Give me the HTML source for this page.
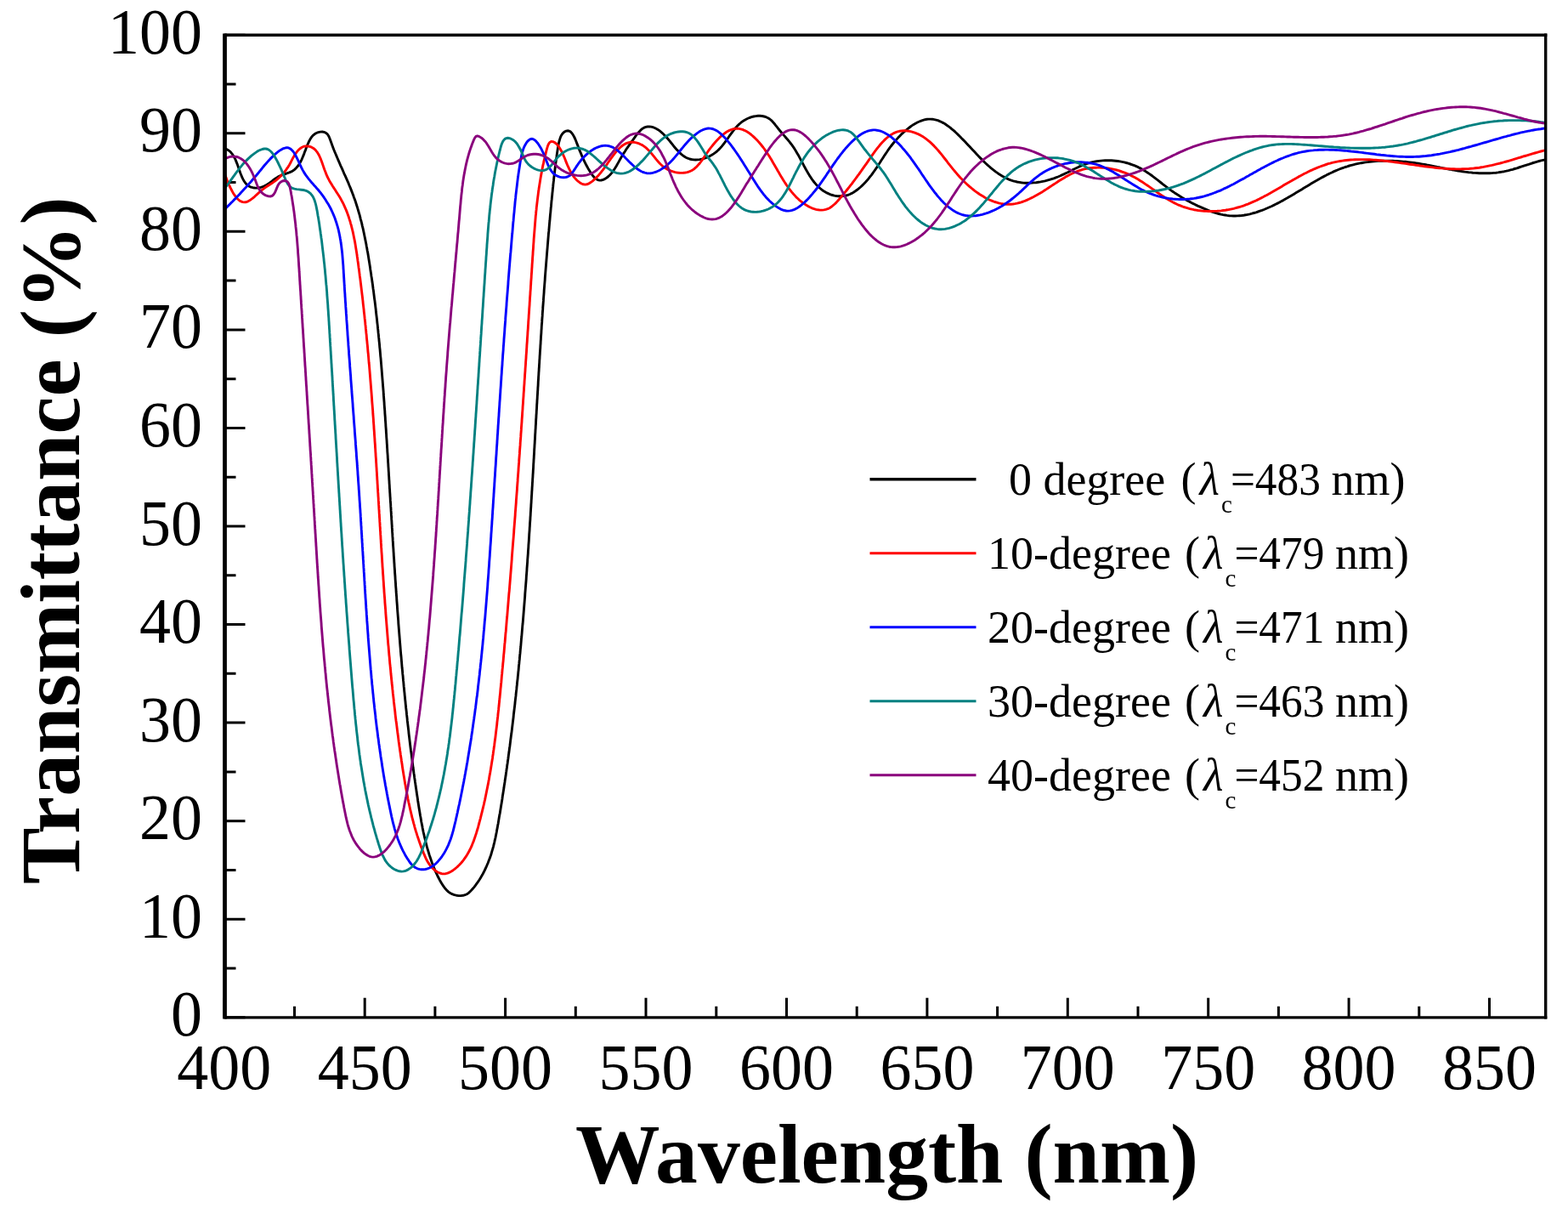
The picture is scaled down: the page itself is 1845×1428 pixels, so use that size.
<!DOCTYPE html>
<html><head><meta charset="utf-8"><title>Transmittance vs Wavelength</title>
<style>
html,body{margin:0;padding:0;background:#fff;}
svg{display:block;}
text{font-family:"Liberation Serif","Times New Roman",serif;fill:#000;}
</style></head><body>
<svg width="1845" height="1428" viewBox="0 0 1845 1428">
<rect x="0" y="0" width="1845" height="1428" fill="#fff"/>
<path d="M263.8,1196.8V1173.8M346.5,1196.8V1183.8M429.2,1196.8V1173.8M511.9,1196.8V1183.8M594.6,1196.8V1173.8M677.3,1196.8V1183.8M760.0,1196.8V1173.8M842.8,1196.8V1183.8M925.5,1196.8V1173.8M1008.2,1196.8V1183.8M1090.9,1196.8V1173.8M1173.6,1196.8V1183.8M1256.3,1196.8V1173.8M1339.0,1196.8V1183.8M1421.7,1196.8V1173.8M1504.4,1196.8V1183.8M1587.1,1196.8V1173.8M1669.8,1196.8V1183.8M1752.5,1196.8V1173.8M264.5,1196.8H288.5M264.5,1139.0H277.5M264.5,1081.2H288.5M264.5,1023.5H277.5M264.5,965.7H288.5M264.5,907.9H277.5M264.5,850.1H288.5M264.5,792.3H277.5M264.5,734.6H288.5M264.5,676.8H277.5M264.5,619.0H288.5M264.5,561.2H277.5M264.5,503.4H288.5M264.5,445.7H277.5M264.5,387.9H288.5M264.5,330.1H277.5M264.5,272.3H288.5M264.5,214.5H277.5M264.5,156.8H288.5M264.5,99.0H277.5M264.5,41.2H288.5" stroke="#000" stroke-width="3" fill="none"/>
<defs><clipPath id="pc"><rect x="264.5" y="41.2" width="1554.2" height="1155.6"/></clipPath></defs>
<g clip-path="url(#pc)" fill="none" stroke-width="2.9" stroke-linejoin="round" stroke-linecap="round">
<path stroke="#000" d="M264.4,174.6 266.6,175.5 268.6,176.7 270.5,178.1 272.1,179.8 273.6,181.7 275.0,183.8 276.2,186.0 277.3,188.4 278.3,190.9 279.3,193.4 280.2,196.0 281.1,198.6 282.0,201.2 282.9,203.8 283.9,206.2 284.9,208.6 286.0,210.9 287.2,213.0 288.5,214.9 289.9,216.6 291.6,218.1 293.4,219.2 295.3,220.1 297.5,220.7 299.8,221.0 302.1,221.1 304.5,220.8 306.9,220.3 309.3,219.6 311.6,218.6 313.7,217.4 315.9,216.1 317.9,214.6 320.0,213.1 322.0,211.5 324.1,210.0 326.3,208.6 328.5,207.3 330.8,206.2 333.2,205.3 335.7,204.5 338.2,203.7 340.5,202.9 342.8,201.9 344.8,200.7 346.7,199.4 348.3,197.8 349.9,196.1 351.3,194.2 352.6,192.2 353.8,190.0 354.9,187.8 355.9,185.5 356.9,183.1 357.9,180.6 358.8,178.1 359.8,175.6 360.7,173.1 361.7,170.6 362.8,168.2 363.9,165.7 365.2,163.4 366.6,161.3 368.2,159.4 370.1,157.8 372.2,156.5 374.5,155.6 376.9,155.1 379.2,155.0 381.4,155.4 383.4,156.3 385.1,157.7 386.4,159.5 387.5,161.7 388.4,164.1 389.3,166.6 390.2,169.0 391.1,171.4 392.0,173.9 392.9,176.3 393.9,178.7 394.9,181.0 395.9,183.4 396.9,185.8 397.9,188.1 398.9,190.4 399.9,192.8 400.9,195.1 402.0,197.4 403.0,199.7 404.0,202.0 405.0,204.3 406.1,206.6 407.1,208.9 408.1,211.2 409.1,213.4 410.1,215.7 411.0,218.0 412.0,220.3 412.9,222.6 413.8,224.9 414.7,227.3 415.6,229.6 416.4,231.9 417.3,234.3 418.1,236.6 418.9,239.0 419.6,241.3 420.4,243.7 421.1,246.1 421.8,248.5 422.5,250.9 423.2,253.2 423.8,255.6 424.4,258.1 425.1,260.5 425.7,262.9 426.2,265.3 426.8,267.7 427.4,270.2 427.9,272.6 428.4,275.0 428.9,277.5 429.4,279.9 429.9,282.4 430.4,284.8 430.9,287.3 431.3,289.8 431.8,292.2 432.2,294.7 432.7,297.1 433.1,299.6 433.5,302.1 433.9,304.6 434.3,307.0 434.7,309.5 435.1,312.0 435.5,314.5 435.8,316.9 436.2,319.4 436.6,321.9 436.9,324.4 437.3,326.8 437.7,329.3 438.0,331.8 438.4,334.3 438.7,336.7 439.0,339.2 439.4,341.7 439.7,344.2 440.0,346.7 440.3,349.2 440.6,351.6 441.0,354.1 441.3,356.6 441.6,359.1 441.9,361.6 442.2,364.0 442.4,366.5 442.7,369.0 443.0,371.5 443.3,374.0 443.6,376.5 443.8,379.0 444.1,381.4 444.4,383.9 444.6,386.4 444.9,388.9 445.1,391.4 445.4,393.9 445.6,396.4 445.9,398.9 446.1,401.3 446.4,403.8 446.6,406.3 446.8,408.8 447.1,411.3 447.3,413.8 447.5,416.3 447.7,418.8 448.0,421.3 448.2,423.8 448.4,426.3 448.6,428.7 448.8,431.2 449.0,433.7 449.2,436.2 449.4,438.7 449.6,441.2 449.8,443.7 450.0,446.2 450.2,448.7 450.4,451.2 450.6,453.7 450.8,456.2 451.0,458.7 451.2,461.2 451.3,463.7 451.5,466.1 451.7,468.6 451.9,471.1 452.1,473.6 452.2,476.1 452.4,478.6 452.6,481.1 452.8,483.6 452.9,486.1 453.1,488.6 453.3,491.1 453.4,493.6 453.6,496.1 453.8,498.6 453.9,501.1 454.1,503.6 454.3,506.1 454.4,508.6 454.6,511.1 454.7,513.6 454.9,516.1 455.1,518.6 455.2,521.0 455.4,523.5 455.5,526.0 455.7,528.5 455.8,531.0 456.0,533.5 456.2,536.0 456.3,538.5 456.5,541.0 456.6,543.5 456.8,546.0 456.9,548.5 457.1,551.0 457.2,553.5 457.4,556.0 457.5,558.5 457.7,561.0 457.8,563.5 458.0,566.0 458.1,568.5 458.3,571.0 458.4,573.5 458.6,576.0 458.7,578.5 458.9,581.0 459.0,583.5 459.2,585.9 459.3,588.4 459.5,590.9 459.7,593.4 459.8,595.9 460.0,598.4 460.1,600.9 460.3,603.4 460.4,605.9 460.6,608.4 460.7,610.9 460.9,613.4 461.0,615.9 461.2,618.4 461.3,620.9 461.5,623.4 461.6,625.9 461.8,628.4 461.9,630.9 462.1,633.4 462.2,635.9 462.4,638.4 462.5,640.9 462.7,643.4 462.9,645.8 463.0,648.3 463.2,650.8 463.3,653.3 463.5,655.8 463.7,658.3 463.8,660.8 464.0,663.3 464.1,665.8 464.3,668.3 464.5,670.8 464.6,673.3 464.8,675.8 465.0,678.3 465.1,680.8 465.3,683.3 465.5,685.8 465.6,688.3 465.8,690.8 466.0,693.2 466.1,695.7 466.3,698.2 466.5,700.7 466.7,703.2 466.8,705.7 467.0,708.2 467.2,710.7 467.4,713.2 467.5,715.7 467.7,718.2 467.9,720.7 468.1,723.2 468.3,725.7 468.5,728.2 468.7,730.6 468.8,733.1 469.0,735.6 469.2,738.1 469.4,740.6 469.6,743.1 469.8,745.6 470.0,748.1 470.2,750.6 470.4,753.1 470.6,755.6 470.8,758.1 471.0,760.6 471.2,763.0 471.4,765.5 471.6,768.0 471.8,770.5 472.1,773.0 472.3,775.5 472.5,778.0 472.7,780.5 472.9,783.0 473.1,785.5 473.4,787.9 473.6,790.4 473.8,792.9 474.1,795.4 474.3,797.9 474.5,800.4 474.8,802.9 475.0,805.4 475.2,807.9 475.5,810.3 475.7,812.8 476.0,815.3 476.2,817.8 476.5,820.3 476.7,822.8 477.0,825.3 477.2,827.8 477.5,830.3 477.7,832.7 478.0,835.2 478.3,837.7 478.5,840.2 478.8,842.7 479.1,845.2 479.3,847.7 479.6,850.1 479.9,852.6 480.2,855.1 480.5,857.6 480.8,860.1 481.0,862.6 481.3,865.1 481.6,867.5 481.9,870.0 482.2,872.5 482.5,875.0 482.8,877.5 483.1,880.0 483.4,882.4 483.8,884.9 484.1,887.4 484.4,889.9 484.7,892.4 485.0,894.8 485.4,897.3 485.7,899.8 486.0,902.3 486.4,904.8 486.7,907.3 487.0,909.7 487.4,912.2 487.7,914.7 488.1,917.2 488.4,919.7 488.8,922.1 489.1,924.6 489.5,927.1 489.9,929.6 490.2,932.1 490.6,934.5 491.0,937.0 491.4,939.5 491.7,942.0 492.1,944.4 492.5,946.9 492.9,949.4 493.3,951.9 493.7,954.3 494.1,956.8 494.5,959.3 495.0,961.8 495.4,964.2 495.8,966.7 496.3,969.2 496.8,971.6 497.2,974.1 497.7,976.5 498.2,979.0 498.8,981.4 499.3,983.8 499.9,986.2 500.5,988.7 501.1,991.1 501.7,993.5 502.3,995.9 503.0,998.3 503.7,1000.7 504.4,1003.0 505.1,1005.4 505.9,1007.8 506.7,1010.1 507.5,1012.5 508.3,1014.8 509.2,1017.1 510.1,1019.4 511.0,1021.7 512.0,1024.0 513.0,1026.3 514.1,1028.5 515.1,1030.8 516.3,1033.0 517.4,1035.2 518.7,1037.4 519.9,1039.5 521.3,1041.6 522.7,1043.7 524.2,1045.6 525.9,1047.4 527.7,1049.1 529.8,1050.5 532.0,1051.7 534.5,1052.6 537.0,1053.2 539.7,1053.6 542.3,1053.6 544.9,1053.3 547.2,1052.7 549.4,1051.7 551.4,1050.4 553.1,1048.8 554.8,1047.0 556.4,1045.2 558.0,1043.4 559.5,1041.4 560.9,1039.4 562.4,1037.4 563.8,1035.3 565.1,1033.2 566.4,1031.0 567.7,1028.8 568.9,1026.5 570.0,1024.3 571.1,1022.0 572.2,1019.7 573.2,1017.3 574.2,1015.0 575.1,1012.6 576.0,1010.2 576.9,1007.9 577.7,1005.5 578.4,1003.1 579.1,1000.7 579.8,998.3 580.5,995.8 581.1,993.4 581.7,991.0 582.2,988.6 582.8,986.1 583.3,983.7 583.8,981.2 584.3,978.8 584.7,976.3 585.2,973.9 585.6,971.4 586.1,969.0 586.5,966.5 586.9,964.1 587.3,961.6 587.7,959.1 588.2,956.7 588.6,954.2 589.0,951.7 589.4,949.3 589.8,946.8 590.2,944.4 590.6,941.9 591.0,939.4 591.3,937.0 591.7,934.5 592.1,932.0 592.5,929.6 592.9,927.1 593.2,924.6 593.6,922.2 594.0,919.7 594.3,917.2 594.7,914.8 595.1,912.3 595.4,909.8 595.8,907.3 596.1,904.9 596.5,902.4 596.8,899.9 597.2,897.5 597.5,895.0 597.9,892.5 598.2,890.0 598.5,887.6 598.9,885.1 599.2,882.6 599.5,880.1 599.9,877.7 600.2,875.2 600.5,872.7 600.8,870.2 601.1,867.8 601.4,865.3 601.8,862.8 602.1,860.3 602.4,857.9 602.7,855.4 603.0,852.9 603.3,850.4 603.6,847.9 603.9,845.5 604.2,843.0 604.4,840.5 604.7,838.0 605.0,835.5 605.3,833.1 605.6,830.6 605.9,828.1 606.1,825.6 606.4,823.1 606.7,820.6 607.0,818.2 607.2,815.7 607.5,813.2 607.8,810.7 608.0,808.2 608.3,805.7 608.5,803.2 608.8,800.8 609.1,798.3 609.3,795.8 609.6,793.3 609.8,790.8 610.1,788.3 610.3,785.8 610.5,783.4 610.8,780.9 611.0,778.4 611.3,775.9 611.5,773.4 611.7,770.9 612.0,768.4 612.2,765.9 612.4,763.4 612.7,761.0 612.9,758.5 613.1,756.0 613.3,753.5 613.5,751.0 613.8,748.5 614.0,746.0 614.2,743.5 614.4,741.0 614.6,738.5 614.8,736.0 615.1,733.5 615.3,731.1 615.5,728.6 615.7,726.1 615.9,723.6 616.1,721.1 616.3,718.6 616.5,716.1 616.7,713.6 616.9,711.1 617.1,708.6 617.3,706.1 617.5,703.6 617.7,701.1 617.8,698.6 618.0,696.1 618.2,693.6 618.4,691.1 618.6,688.6 618.8,686.2 619.0,683.7 619.2,681.2 619.3,678.7 619.5,676.2 619.7,673.7 619.9,671.2 620.0,668.7 620.2,666.2 620.4,663.7 620.6,661.2 620.7,658.7 620.9,656.2 621.1,653.7 621.3,651.2 621.4,648.7 621.6,646.2 621.8,643.7 621.9,641.2 622.1,638.7 622.3,636.2 622.4,633.7 622.6,631.2 622.7,628.7 622.9,626.2 623.1,623.7 623.2,621.2 623.4,618.7 623.5,616.2 623.7,613.7 623.9,611.2 624.0,608.7 624.2,606.2 624.3,603.7 624.5,601.2 624.6,598.7 624.8,596.2 624.9,593.7 625.1,591.2 625.2,588.7 625.4,586.2 625.5,583.7 625.7,581.2 625.8,578.7 626.0,576.2 626.1,573.7 626.3,571.2 626.4,568.7 626.6,566.2 626.7,563.7 626.9,561.2 627.0,558.7 627.2,556.2 627.3,553.7 627.5,551.2 627.6,548.7 627.7,546.2 627.9,543.7 628.0,541.2 628.2,538.7 628.3,536.2 628.5,533.7 628.6,531.2 628.7,528.7 628.9,526.2 629.0,523.7 629.2,521.2 629.3,518.7 629.5,516.2 629.6,513.7 629.7,511.2 629.9,508.7 630.0,506.2 630.2,503.7 630.3,501.2 630.5,498.7 630.6,496.2 630.7,493.7 630.9,491.2 631.0,488.7 631.2,486.2 631.3,483.7 631.5,481.2 631.6,478.7 631.7,476.2 631.9,473.7 632.0,471.2 632.2,468.7 632.3,466.2 632.5,463.7 632.6,461.2 632.8,458.7 632.9,456.2 633.1,453.7 633.2,451.2 633.3,448.7 633.5,446.2 633.6,443.7 633.8,441.2 633.9,438.7 634.1,436.2 634.2,433.7 634.4,431.3 634.5,428.8 634.7,426.3 634.8,423.8 635.0,421.3 635.1,418.8 635.3,416.3 635.4,413.8 635.6,411.3 635.8,408.8 635.9,406.3 636.1,403.8 636.2,401.3 636.4,398.8 636.5,396.3 636.7,393.8 636.9,391.3 637.0,388.8 637.2,386.3 637.3,383.8 637.5,381.4 637.7,378.9 637.8,376.4 638.0,373.9 638.2,371.4 638.3,368.9 638.5,366.4 638.7,363.9 638.8,361.4 639.0,358.9 639.2,356.4 639.4,353.9 639.5,351.5 639.7,349.0 639.9,346.5 640.1,344.0 640.2,341.5 640.4,339.0 640.6,336.5 640.8,334.0 641.0,331.5 641.2,329.1 641.3,326.6 641.5,324.1 641.7,321.6 641.9,319.1 642.1,316.6 642.3,314.1 642.5,311.6 642.7,309.2 642.9,306.7 643.1,304.2 643.3,301.7 643.5,299.2 643.7,296.7 643.9,294.2 644.1,291.8 644.3,289.3 644.5,286.8 644.7,284.3 644.9,281.8 645.1,279.4 645.3,276.9 645.5,274.4 645.8,271.9 646.0,269.4 646.2,266.9 646.4,264.5 646.6,262.0 646.9,259.5 647.1,257.0 647.3,254.5 647.5,252.1 647.8,249.6 648.0,247.1 648.2,244.6 648.5,242.2 648.7,239.7 648.9,237.2 649.2,234.7 649.4,232.3 649.7,229.8 649.9,227.3 650.2,224.8 650.4,222.4 650.7,219.9 650.9,217.4 651.2,214.9 651.5,212.4 651.7,210.0 652.0,207.5 652.3,205.0 652.6,202.5 652.9,199.9 653.2,197.4 653.5,194.9 653.8,192.4 654.2,189.8 654.5,187.2 654.9,184.7 655.2,182.1 655.6,179.5 656.0,176.9 656.4,174.2 656.9,171.6 657.3,169.0 657.9,166.5 658.6,164.1 659.3,161.9 660.2,159.8 661.3,158.0 662.6,156.4 664.1,155.1 665.8,154.2 667.6,153.8 669.4,154.0 671.2,154.9 672.8,156.5 674.3,158.6 675.6,161.0 676.8,163.5 677.8,166.1 678.8,168.6 679.8,171.1 680.7,173.6 681.6,175.9 682.5,178.2 683.5,180.4 684.4,182.6 685.3,184.8 686.3,187.0 687.3,189.1 688.4,191.3 689.5,193.5 690.7,195.7 691.9,197.9 693.3,200.2 694.7,202.5 696.2,204.8 697.8,207.0 699.5,208.9 701.3,210.5 703.3,211.6 705.4,212.1 707.5,212.0 709.8,211.4 711.9,210.4 714.0,209.0 715.9,207.5 717.7,205.8 719.4,203.9 721.0,201.8 722.5,199.7 723.9,197.5 725.3,195.2 726.6,192.9 727.9,190.6 729.1,188.4 730.3,186.2 731.5,184.1 732.8,182.1 734.0,180.1 735.3,178.2 736.5,176.3 737.8,174.3 739.2,172.4 740.6,170.4 742.0,168.4 743.5,166.3 745.1,164.1 746.7,161.8 748.4,159.4 750.2,157.1 752.1,154.9 754.0,152.9 755.9,151.3 757.9,150.2 759.9,149.4 762.0,149.0 764.1,148.9 766.2,149.1 768.3,149.7 770.4,150.5 772.4,151.5 774.5,152.7 776.5,154.2 778.5,155.8 780.4,157.5 782.2,159.4 784.1,161.3 785.8,163.3 787.6,165.4 789.3,167.5 791.0,169.6 792.6,171.7 794.3,173.7 796.0,175.7 797.8,177.6 799.5,179.4 801.3,181.1 803.2,182.6 805.1,184.0 807.1,185.2 809.2,186.2 811.4,187.0 813.6,187.5 816.0,187.9 818.4,188.0 820.8,187.9 823.3,187.6 825.7,187.1 828.2,186.5 830.6,185.6 833.0,184.7 835.3,183.6 837.6,182.3 839.8,180.9 841.8,179.4 843.8,177.8 845.6,176.1 847.4,174.3 849.1,172.4 850.7,170.4 852.2,168.5 853.7,166.4 855.2,164.4 856.7,162.3 858.1,160.2 859.6,158.2 861.1,156.1 862.6,154.1 864.1,152.2 865.7,150.3 867.4,148.4 869.1,146.7 871.0,145.0 872.9,143.4 875.0,142.0 877.2,140.7 879.5,139.5 881.9,138.5 884.3,137.7 886.8,137.0 889.3,136.6 891.8,136.3 894.2,136.3 896.7,136.5 899.1,137.0 901.4,137.7 903.6,138.7 905.7,140.0 907.6,141.6 909.4,143.5 911.2,145.5 912.8,147.6 914.5,149.7 916.1,151.8 917.7,153.7 919.4,155.7 921.0,157.5 922.6,159.4 924.2,161.2 925.7,163.0 927.3,164.8 928.8,166.7 930.2,168.5 931.7,170.4 933.1,172.4 934.5,174.4 935.8,176.5 937.1,178.7 938.4,180.9 939.7,183.1 940.9,185.4 942.1,187.7 943.4,190.0 944.6,192.4 945.8,194.7 947.1,197.0 948.3,199.3 949.6,201.6 951.0,203.9 952.3,206.1 953.7,208.3 955.1,210.4 956.6,212.5 958.2,214.5 959.8,216.4 961.4,218.2 963.2,219.9 965.0,221.5 966.9,223.1 968.8,224.5 970.9,225.7 973.0,226.9 975.1,227.9 977.3,228.8 979.5,229.5 981.8,230.1 984.1,230.5 986.4,230.7 988.6,230.8 990.9,230.7 993.2,230.4 995.5,230.0 997.8,229.3 1000.0,228.5 1002.2,227.4 1004.3,226.2 1006.5,224.8 1008.6,223.3 1010.6,221.7 1012.6,220.0 1014.6,218.1 1016.5,216.2 1018.4,214.2 1020.2,212.2 1022.0,210.1 1023.7,207.9 1025.4,205.8 1027.0,203.6 1028.5,201.5 1030.0,199.4 1031.4,197.3 1032.8,195.3 1034.1,193.2 1035.4,191.3 1036.6,189.3 1037.9,187.3 1039.1,185.4 1040.3,183.5 1041.6,181.6 1042.9,179.7 1044.2,177.8 1045.5,175.8 1046.9,173.9 1048.3,172.0 1049.9,170.0 1051.5,168.0 1053.1,166.1 1054.9,164.1 1056.7,162.1 1058.5,160.2 1060.4,158.2 1062.4,156.4 1064.4,154.5 1066.5,152.8 1068.6,151.1 1070.7,149.5 1072.8,147.9 1075.0,146.5 1077.2,145.2 1079.4,144.0 1081.7,143.0 1083.9,142.1 1086.1,141.3 1088.4,140.7 1090.6,140.3 1092.8,140.1 1095.0,140.1 1097.2,140.2 1099.3,140.6 1101.5,141.1 1103.6,141.7 1105.7,142.6 1107.8,143.5 1109.9,144.6 1112.0,145.8 1114.0,147.2 1116.0,148.6 1118.1,150.1 1120.0,151.8 1122.0,153.4 1124.0,155.2 1125.9,157.0 1127.8,158.9 1129.7,160.7 1131.6,162.7 1133.5,164.6 1135.4,166.5 1137.2,168.5 1139.0,170.4 1140.8,172.3 1142.6,174.3 1144.4,176.2 1146.2,178.1 1148.0,180.0 1149.8,181.9 1151.5,183.8 1153.3,185.6 1155.1,187.4 1156.9,189.2 1158.7,191.0 1160.5,192.7 1162.3,194.4 1164.2,196.0 1166.0,197.6 1167.9,199.1 1169.8,200.6 1171.7,202.1 1173.6,203.4 1175.5,204.8 1177.5,206.0 1179.5,207.2 1181.5,208.3 1183.6,209.4 1185.7,210.4 1187.8,211.3 1190.0,212.1 1192.2,212.8 1194.5,213.4 1196.8,214.0 1199.1,214.4 1201.5,214.8 1203.9,215.1 1206.4,215.2 1208.9,215.3 1211.5,215.3 1214.1,215.1 1216.6,214.9 1219.3,214.7 1221.9,214.3 1224.5,213.9 1227.1,213.3 1229.7,212.8 1232.3,212.1 1234.9,211.4 1237.4,210.6 1239.9,209.8 1242.4,208.9 1244.8,208.0 1247.2,207.0 1249.5,205.9 1251.8,204.9 1254.1,203.8 1256.4,202.7 1258.6,201.6 1260.8,200.5 1263.0,199.3 1265.2,198.3 1267.4,197.2 1269.5,196.2 1271.8,195.2 1274.0,194.3 1276.2,193.4 1278.5,192.6 1280.9,191.9 1283.2,191.2 1285.6,190.6 1288.0,190.1 1290.4,189.7 1292.9,189.4 1295.3,189.1 1297.8,188.9 1300.3,188.8 1302.8,188.7 1305.3,188.7 1307.8,188.8 1310.3,189.0 1312.8,189.2 1315.3,189.5 1317.8,189.9 1320.3,190.4 1322.8,190.9 1325.2,191.5 1327.6,192.2 1330.0,193.0 1332.4,193.8 1334.7,194.7 1337.0,195.7 1339.3,196.7 1341.6,197.9 1343.8,199.0 1345.9,200.3 1348.0,201.6 1350.1,203.0 1352.2,204.4 1354.2,205.8 1356.3,207.3 1358.3,208.8 1360.3,210.4 1362.3,211.9 1364.2,213.4 1366.2,215.0 1368.2,216.6 1370.2,218.1 1372.2,219.6 1374.2,221.1 1376.2,222.6 1378.2,224.1 1380.2,225.5 1382.3,226.9 1384.4,228.2 1386.5,229.6 1388.6,230.9 1390.7,232.2 1392.8,233.4 1395.0,234.7 1397.1,235.9 1399.3,237.1 1401.5,238.2 1403.7,239.4 1406.0,240.5 1408.2,241.6 1410.5,242.7 1412.8,243.7 1415.1,244.7 1417.4,245.7 1419.8,246.7 1422.1,247.6 1424.5,248.5 1426.9,249.3 1429.3,250.1 1431.7,250.8 1434.1,251.5 1436.5,252.1 1439.0,252.6 1441.4,253.0 1443.8,253.4 1446.3,253.7 1448.7,253.9 1451.2,254.0 1453.6,254.0 1456.1,253.9 1458.5,253.7 1461.0,253.5 1463.4,253.2 1465.8,252.8 1468.3,252.3 1470.7,251.8 1473.1,251.2 1475.5,250.5 1477.9,249.8 1480.3,249.0 1482.6,248.2 1485.0,247.4 1487.3,246.5 1489.6,245.5 1491.9,244.5 1494.2,243.5 1496.5,242.5 1498.8,241.4 1501.0,240.3 1503.3,239.1 1505.5,238.0 1507.7,236.8 1510.0,235.6 1512.2,234.3 1514.4,233.1 1516.6,231.8 1518.8,230.5 1521.0,229.2 1523.1,227.9 1525.3,226.6 1527.5,225.3 1529.7,224.0 1531.9,222.7 1534.0,221.3 1536.2,220.0 1538.4,218.7 1540.5,217.4 1542.7,216.1 1544.9,214.8 1547.1,213.5 1549.3,212.3 1551.5,211.0 1553.7,209.8 1555.8,208.6 1558.1,207.4 1560.3,206.3 1562.5,205.1 1564.7,204.0 1567.0,203.0 1569.2,201.9 1571.5,200.9 1573.7,200.0 1576.0,199.0 1578.3,198.1 1580.6,197.3 1582.9,196.5 1585.2,195.8 1587.6,195.0 1589.9,194.4 1592.3,193.8 1594.7,193.2 1597.1,192.7 1599.5,192.2 1601.9,191.7 1604.3,191.3 1606.7,190.9 1609.2,190.6 1611.6,190.3 1614.0,190.0 1616.5,189.8 1619.0,189.6 1621.4,189.4 1623.9,189.3 1626.4,189.2 1628.9,189.2 1631.4,189.2 1633.9,189.2 1636.4,189.2 1638.8,189.3 1641.3,189.4 1643.8,189.5 1646.4,189.7 1648.9,189.9 1651.4,190.1 1653.9,190.3 1656.4,190.6 1658.9,190.9 1661.4,191.2 1663.9,191.5 1666.4,191.9 1668.9,192.3 1671.3,192.7 1673.8,193.1 1676.3,193.5 1678.8,194.0 1681.3,194.4 1683.8,194.9 1686.2,195.4 1688.7,195.9 1691.2,196.4 1693.7,196.8 1696.1,197.3 1698.6,197.8 1701.1,198.3 1703.5,198.8 1706.0,199.2 1708.5,199.7 1710.9,200.1 1713.4,200.5 1715.9,201.0 1718.3,201.3 1720.8,201.7 1723.2,202.1 1725.7,202.4 1728.2,202.7 1730.6,202.9 1733.1,203.2 1735.5,203.4 1738.0,203.5 1740.5,203.7 1742.9,203.8 1745.4,203.8 1747.8,203.8 1750.3,203.8 1752.8,203.7 1755.2,203.6 1757.7,203.4 1760.1,203.2 1762.6,202.9 1765.1,202.5 1767.5,202.1 1770.0,201.7 1772.5,201.2 1774.9,200.6 1777.4,199.9 1779.9,199.3 1782.3,198.5 1784.8,197.8 1787.3,197.0 1789.7,196.2 1792.1,195.4 1794.5,194.6 1797.0,193.8 1799.4,193.1 1801.7,192.3 1804.1,191.5 1806.5,190.8 1808.8,190.1 1811.1,189.5 1813.4,188.9 1815.6,188.4 1817.9,188.0"/>
<path stroke="#ff0000" d="M264.7,205.5 265.4,207.4 266.2,209.4 267.1,211.7 268.0,214.1 269.1,216.5 270.2,219.0 271.4,221.5 272.7,224.0 274.0,226.4 275.4,228.7 276.9,230.8 278.5,232.8 280.1,234.5 281.8,235.9 283.6,236.9 285.4,237.6 287.3,237.9 289.2,237.8 291.2,237.2 293.2,236.1 295.3,234.7 297.4,233.1 299.6,231.3 301.7,229.3 303.8,227.4 305.9,225.5 308.0,223.7 310.1,222.1 312.1,220.6 314.1,219.3 316.1,218.0 318.0,216.8 320.0,215.6 321.9,214.2 323.8,212.8 325.7,211.3 327.6,209.7 329.4,208.0 331.2,206.2 332.9,204.3 334.6,202.4 336.2,200.3 337.7,198.2 339.2,196.1 340.5,193.9 341.7,191.7 342.9,189.4 344.0,187.2 345.2,184.9 346.5,182.7 347.9,180.6 349.5,178.4 351.2,176.5 353.2,174.7 355.3,173.3 357.5,172.3 359.9,171.9 362.3,172.0 364.5,172.4 366.6,173.2 368.5,174.3 370.2,175.5 371.7,177.1 373.1,178.8 374.3,180.7 375.5,182.8 376.5,185.0 377.5,187.4 378.4,189.8 379.3,192.3 380.2,194.9 381.1,197.4 382.0,200.0 383.0,202.6 384.0,205.1 385.0,207.5 386.2,209.9 387.4,212.2 388.7,214.4 390.0,216.6 391.3,218.8 392.7,220.9 394.1,223.0 395.4,225.1 396.8,227.2 398.1,229.2 399.4,231.3 400.7,233.5 401.8,235.6 403.0,237.8 404.1,239.9 405.1,242.1 406.1,244.4 407.1,246.6 408.0,248.9 408.9,251.2 409.7,253.5 410.5,255.8 411.2,258.1 412.0,260.5 412.6,262.8 413.3,265.2 413.9,267.6 414.5,270.0 415.1,272.4 415.6,274.8 416.1,277.3 416.6,279.7 417.1,282.1 417.6,284.6 418.0,287.1 418.4,289.5 418.8,292.0 419.2,294.5 419.6,297.0 420.0,299.5 420.3,302.0 420.7,304.5 421.0,307.0 421.4,309.5 421.7,312.0 422.0,314.4 422.4,316.9 422.7,319.4 423.0,321.9 423.3,324.4 423.7,326.9 424.0,329.4 424.3,331.9 424.6,334.4 424.9,336.9 425.2,339.4 425.5,341.9 425.8,344.4 426.1,346.9 426.4,349.3 426.7,351.8 427.0,354.3 427.2,356.8 427.5,359.3 427.8,361.8 428.1,364.3 428.3,366.8 428.6,369.3 428.9,371.8 429.1,374.2 429.4,376.7 429.7,379.2 429.9,381.7 430.2,384.2 430.4,386.7 430.7,389.2 430.9,391.7 431.2,394.2 431.4,396.6 431.6,399.1 431.9,401.6 432.1,404.1 432.4,406.6 432.6,409.1 432.8,411.6 433.0,414.1 433.3,416.5 433.5,419.0 433.7,421.5 433.9,424.0 434.1,426.5 434.4,429.0 434.6,431.5 434.8,434.0 435.0,436.4 435.2,438.9 435.4,441.4 435.6,443.9 435.8,446.4 436.0,448.9 436.2,451.4 436.4,453.9 436.6,456.3 436.8,458.8 437.0,461.3 437.2,463.8 437.4,466.3 437.6,468.8 437.7,471.3 437.9,473.8 438.1,476.2 438.3,478.7 438.5,481.2 438.7,483.7 438.8,486.2 439.0,488.7 439.2,491.2 439.4,493.7 439.5,496.2 439.7,498.7 439.9,501.1 440.0,503.6 440.2,506.1 440.4,508.6 440.5,511.1 440.7,513.6 440.9,516.1 441.0,518.6 441.2,521.1 441.4,523.6 441.5,526.1 441.7,528.6 441.8,531.0 442.0,533.5 442.1,536.0 442.3,538.5 442.5,541.0 442.6,543.5 442.8,546.0 442.9,548.5 443.1,551.0 443.2,553.5 443.4,556.0 443.5,558.5 443.7,561.0 443.8,563.5 444.0,566.0 444.1,568.5 444.3,571.0 444.4,573.5 444.6,575.9 444.7,578.4 444.9,580.9 445.0,583.4 445.2,585.9 445.3,588.4 445.5,590.9 445.6,593.4 445.8,595.9 445.9,598.4 446.1,600.9 446.2,603.4 446.4,605.9 446.5,608.4 446.7,610.9 446.8,613.4 447.0,615.9 447.1,618.4 447.3,620.9 447.4,623.4 447.6,625.9 447.7,628.4 447.9,630.9 448.0,633.4 448.2,635.9 448.3,638.4 448.5,640.9 448.6,643.4 448.8,645.8 448.9,648.3 449.1,650.8 449.3,653.3 449.4,655.8 449.6,658.3 449.7,660.8 449.9,663.3 450.0,665.8 450.2,668.3 450.4,670.8 450.5,673.3 450.7,675.8 450.9,678.3 451.0,680.8 451.2,683.3 451.4,685.8 451.5,688.3 451.7,690.8 451.9,693.3 452.0,695.8 452.2,698.3 452.4,700.8 452.6,703.3 452.8,705.8 452.9,708.3 453.1,710.8 453.3,713.2 453.5,715.7 453.7,718.2 453.8,720.7 454.0,723.2 454.2,725.7 454.4,728.2 454.6,730.7 454.8,733.2 455.0,735.7 455.2,738.2 455.4,740.7 455.6,743.2 455.8,745.7 456.0,748.2 456.2,750.7 456.4,753.2 456.6,755.6 456.8,758.1 457.1,760.6 457.3,763.1 457.5,765.6 457.7,768.1 457.9,770.6 458.2,773.1 458.4,775.6 458.6,778.1 458.8,780.6 459.1,783.1 459.3,785.5 459.6,788.0 459.8,790.5 460.0,793.0 460.3,795.5 460.5,798.0 460.8,800.5 461.0,803.0 461.3,805.5 461.6,807.9 461.8,810.4 462.1,812.9 462.3,815.4 462.6,817.9 462.9,820.4 463.2,822.9 463.4,825.4 463.7,827.8 464.0,830.3 464.3,832.8 464.6,835.3 464.9,837.8 465.1,840.3 465.4,842.8 465.7,845.2 466.0,847.7 466.4,850.2 466.7,852.7 467.0,855.2 467.3,857.7 467.6,860.1 467.9,862.6 468.3,865.1 468.6,867.6 468.9,870.1 469.2,872.5 469.6,875.0 469.9,877.5 470.3,880.0 470.6,882.5 471.0,884.9 471.3,887.4 471.7,889.9 472.1,892.4 472.4,894.8 472.8,897.3 473.2,899.8 473.5,902.3 473.9,904.8 474.3,907.2 474.7,909.7 475.1,912.2 475.5,914.6 475.9,917.1 476.3,919.6 476.7,922.0 477.2,924.5 477.6,927.0 478.1,929.4 478.5,931.9 479.0,934.3 479.5,936.8 479.9,939.2 480.4,941.7 480.9,944.1 481.5,946.6 482.0,949.0 482.5,951.4 483.1,953.9 483.7,956.3 484.2,958.7 484.8,961.1 485.4,963.5 486.1,965.9 486.7,968.4 487.4,970.7 488.0,973.1 488.7,975.5 489.4,977.9 490.2,980.3 490.9,982.6 491.7,985.0 492.5,987.4 493.3,989.7 494.1,992.0 494.9,994.4 495.8,996.7 496.7,999.0 497.6,1001.3 498.5,1003.6 499.5,1005.9 500.4,1008.2 501.5,1010.5 502.7,1012.7 504.0,1014.9 505.5,1017.1 507.1,1019.2 509.0,1021.2 510.9,1023.0 513.0,1024.7 515.2,1026.0 517.5,1027.0 519.8,1027.7 522.1,1027.9 524.3,1027.7 526.6,1027.1 528.8,1026.2 531.0,1025.0 533.1,1023.7 535.2,1022.1 537.1,1020.5 539.0,1018.8 540.8,1017.0 542.5,1015.2 544.1,1013.3 545.6,1011.4 547.0,1009.4 548.4,1007.4 549.7,1005.3 550.9,1003.2 552.1,1001.0 553.2,998.8 554.3,996.6 555.3,994.3 556.2,992.0 557.2,989.7 558.0,987.3 558.8,985.0 559.6,982.6 560.4,980.2 561.1,977.8 561.9,975.3 562.6,972.9 563.2,970.5 563.9,968.0 564.5,965.6 565.2,963.1 565.8,960.7 566.4,958.2 567.0,955.8 567.6,953.4 568.2,950.9 568.8,948.5 569.4,946.0 569.9,943.6 570.5,941.1 571.0,938.6 571.5,936.2 572.0,933.7 572.5,931.3 573.0,928.8 573.5,926.4 574.0,923.9 574.5,921.4 574.9,919.0 575.4,916.5 575.8,914.1 576.2,911.6 576.7,909.1 577.1,906.7 577.5,904.2 577.9,901.7 578.3,899.3 578.7,896.8 579.1,894.3 579.5,891.9 579.8,889.4 580.2,886.9 580.5,884.5 580.9,882.0 581.2,879.5 581.6,877.0 581.9,874.6 582.2,872.1 582.6,869.6 582.9,867.2 583.2,864.7 583.5,862.2 583.8,859.7 584.1,857.2 584.4,854.8 584.7,852.3 584.9,849.8 585.2,847.3 585.5,844.9 585.8,842.4 586.0,839.9 586.3,837.4 586.6,834.9 586.8,832.5 587.1,830.0 587.3,827.5 587.6,825.0 587.8,822.5 588.1,820.0 588.3,817.6 588.6,815.1 588.8,812.6 589.0,810.1 589.3,807.6 589.5,805.1 589.8,802.7 590.0,800.2 590.2,797.7 590.4,795.2 590.7,792.7 590.9,790.2 591.1,787.7 591.4,785.2 591.6,782.8 591.8,780.3 592.1,777.8 592.3,775.3 592.5,772.8 592.7,770.3 593.0,767.8 593.2,765.3 593.4,762.9 593.6,760.4 593.8,757.9 594.1,755.4 594.3,752.9 594.5,750.4 594.7,747.9 594.9,745.4 595.2,742.9 595.4,740.5 595.6,738.0 595.8,735.5 596.0,733.0 596.2,730.5 596.4,728.0 596.7,725.5 596.9,723.0 597.1,720.5 597.3,718.0 597.5,715.5 597.7,713.1 597.9,710.6 598.1,708.1 598.3,705.6 598.5,703.1 598.7,700.6 598.9,698.1 599.2,695.6 599.4,693.1 599.6,690.6 599.8,688.1 600.0,685.6 600.2,683.1 600.4,680.7 600.6,678.2 600.8,675.7 601.0,673.2 601.2,670.7 601.4,668.2 601.6,665.7 601.8,663.2 602.0,660.7 602.2,658.2 602.3,655.7 602.5,653.2 602.7,650.7 602.9,648.2 603.1,645.7 603.3,643.2 603.5,640.7 603.7,638.2 603.9,635.7 604.1,633.3 604.3,630.8 604.5,628.3 604.7,625.8 604.8,623.3 605.0,620.8 605.2,618.3 605.4,615.8 605.6,613.3 605.8,610.8 606.0,608.3 606.2,605.8 606.3,603.3 606.5,600.8 606.7,598.3 606.9,595.8 607.1,593.3 607.3,590.8 607.4,588.3 607.6,585.8 607.8,583.3 608.0,580.8 608.2,578.3 608.4,575.8 608.5,573.3 608.7,570.8 608.9,568.4 609.1,565.9 609.2,563.4 609.4,560.9 609.6,558.4 609.8,555.9 610.0,553.4 610.1,550.9 610.3,548.4 610.5,545.9 610.7,543.4 610.8,540.9 611.0,538.4 611.2,535.9 611.4,533.4 611.5,530.9 611.7,528.4 611.9,525.9 612.1,523.4 612.2,520.9 612.4,518.4 612.6,515.9 612.8,513.4 612.9,510.9 613.1,508.4 613.3,505.9 613.4,503.4 613.6,500.9 613.8,498.4 614.0,495.9 614.1,493.4 614.3,490.9 614.5,488.4 614.6,485.9 614.8,483.5 615.0,481.0 615.1,478.5 615.3,476.0 615.5,473.5 615.6,471.0 615.8,468.5 616.0,466.0 616.1,463.5 616.3,461.0 616.5,458.5 616.6,456.0 616.8,453.5 617.0,451.0 617.1,448.5 617.3,446.0 617.5,443.5 617.6,441.0 617.8,438.5 618.0,436.0 618.1,433.5 618.3,431.0 618.5,428.5 618.6,426.0 618.8,423.5 619.0,421.0 619.1,418.6 619.3,416.1 619.5,413.6 619.6,411.1 619.8,408.6 619.9,406.1 620.1,403.6 620.3,401.1 620.4,398.6 620.6,396.1 620.8,393.6 620.9,391.1 621.1,388.6 621.3,386.1 621.4,383.6 621.6,381.1 621.7,378.6 621.9,376.2 622.1,373.7 622.2,371.2 622.4,368.7 622.6,366.2 622.7,363.7 622.9,361.2 623.1,358.7 623.2,356.2 623.4,353.7 623.5,351.2 623.7,348.7 623.9,346.2 624.0,343.7 624.2,341.3 624.4,338.8 624.5,336.3 624.7,333.8 624.8,331.3 625.0,328.8 625.2,326.3 625.3,323.8 625.5,321.3 625.7,318.8 625.8,316.4 626.0,313.9 626.1,311.4 626.3,308.9 626.5,306.4 626.6,303.9 626.8,301.4 627.0,298.9 627.1,296.4 627.3,294.0 627.5,291.5 627.6,289.0 627.8,286.5 628.0,284.0 628.1,281.5 628.3,279.0 628.5,276.5 628.7,274.1 628.9,271.6 629.1,269.1 629.3,266.6 629.5,264.1 629.7,261.6 629.9,259.1 630.1,256.6 630.3,254.2 630.6,251.7 630.8,249.2 631.1,246.7 631.3,244.2 631.6,241.7 631.9,239.2 632.2,236.7 632.5,234.2 632.8,231.8 633.1,229.3 633.4,226.8 633.8,224.3 634.1,221.8 634.5,219.3 634.9,216.8 635.3,214.3 635.7,211.8 636.1,209.3 636.5,206.9 637.0,204.4 637.4,201.9 637.9,199.4 638.4,196.9 638.9,194.4 639.5,191.9 640.0,189.4 640.6,186.9 641.2,184.4 641.8,181.9 642.4,179.4 643.0,176.9 643.7,174.4 644.4,172.1 645.2,169.9 646.2,168.2 647.4,167.0 648.9,166.4 650.6,166.6 652.5,167.5 654.5,169.0 656.4,171.0 658.0,173.3 659.5,175.7 660.9,178.2 662.0,180.5 663.0,182.8 664.0,185.0 664.9,187.3 665.8,189.6 666.7,191.9 667.7,194.3 668.8,196.6 669.8,198.9 671.0,201.2 672.3,203.4 673.6,205.6 675.0,207.7 676.6,209.6 678.3,211.5 680.1,213.2 682.1,214.7 684.2,216.0 686.3,216.8 688.5,217.1 690.7,216.8 692.9,215.9 695.0,214.6 697.1,213.1 699.0,211.4 700.9,209.7 702.7,207.9 704.4,206.0 706.0,204.1 707.6,202.2 709.2,200.2 710.7,198.2 712.1,196.1 713.6,194.1 715.0,192.0 716.4,190.0 717.9,187.9 719.3,185.8 720.8,183.8 722.3,181.8 723.9,179.8 725.5,177.9 727.2,176.0 729.0,174.2 730.8,172.5 732.7,171.0 734.7,169.7 736.8,168.6 739.0,167.8 741.3,167.3 743.7,167.1 746.2,167.3 748.7,167.8 751.3,168.6 753.7,169.7 756.1,170.9 758.2,172.4 760.2,173.9 762.1,175.7 763.9,177.5 765.6,179.4 767.3,181.4 768.9,183.4 770.5,185.4 772.1,187.4 773.7,189.3 775.4,191.2 777.1,193.0 779.0,194.8 780.9,196.3 783.0,197.8 785.1,199.1 787.4,200.2 789.7,201.1 792.1,201.9 794.5,202.6 796.9,203.0 799.4,203.3 801.8,203.4 804.2,203.3 806.5,203.0 808.7,202.6 810.9,201.9 813.0,201.0 815.0,199.9 816.8,198.7 818.5,197.2 820.2,195.6 821.8,193.8 823.4,192.0 824.9,190.0 826.4,187.9 827.9,185.7 829.4,183.5 830.9,181.3 832.5,179.0 834.1,176.7 835.8,174.4 837.6,172.2 839.3,170.0 841.2,167.8 843.0,165.7 844.9,163.7 846.8,161.8 848.8,159.9 850.8,158.3 852.8,156.7 854.8,155.3 856.9,154.1 858.9,153.1 861.0,152.3 863.1,151.7 865.2,151.3 867.4,151.2 869.5,151.4 871.6,151.8 873.7,152.4 875.8,153.3 877.9,154.3 879.9,155.5 882.0,156.9 884.0,158.5 885.9,160.1 887.8,161.9 889.7,163.7 891.5,165.6 893.2,167.5 894.9,169.5 896.5,171.5 898.1,173.5 899.6,175.5 901.0,177.6 902.4,179.6 903.8,181.7 905.2,183.8 906.5,185.9 907.8,188.1 909.0,190.2 910.3,192.4 911.5,194.5 912.8,196.7 914.0,198.8 915.2,201.0 916.5,203.1 917.7,205.3 919.0,207.4 920.3,209.6 921.6,211.7 922.9,213.8 924.3,215.9 925.7,218.0 927.2,220.1 928.6,222.1 930.2,224.1 931.8,226.1 933.4,228.0 935.1,229.9 936.8,231.8 938.7,233.5 940.5,235.3 942.5,236.9 944.5,238.4 946.5,239.9 948.7,241.3 950.9,242.6 953.1,243.7 955.4,244.8 957.8,245.6 960.1,246.3 962.5,246.8 964.8,247.1 967.1,247.1 969.5,246.9 971.7,246.4 974.0,245.7 976.1,244.7 978.2,243.3 980.2,241.7 982.2,240.0 984.1,238.1 986.0,236.0 987.8,234.0 989.5,231.9 991.2,229.9 992.9,227.9 994.5,225.9 996.1,224.0 997.7,222.0 999.2,220.1 1000.7,218.2 1002.2,216.3 1003.6,214.3 1005.1,212.4 1006.5,210.5 1007.9,208.6 1009.3,206.7 1010.7,204.8 1012.1,202.8 1013.5,200.9 1014.9,198.9 1016.3,196.9 1017.7,194.9 1019.2,192.8 1020.6,190.8 1022.1,188.6 1023.6,186.5 1025.1,184.3 1026.6,182.1 1028.2,179.9 1029.8,177.7 1031.4,175.5 1033.1,173.4 1034.8,171.3 1036.5,169.3 1038.3,167.3 1040.1,165.4 1041.9,163.6 1043.8,162.0 1045.7,160.4 1047.7,159.0 1049.8,157.7 1051.8,156.6 1054.0,155.6 1056.1,154.9 1058.4,154.3 1060.6,154.0 1063.0,153.8 1065.3,153.8 1067.7,154.0 1070.1,154.4 1072.5,154.9 1074.8,155.6 1077.1,156.4 1079.4,157.3 1081.7,158.4 1083.8,159.5 1086.0,160.8 1088.0,162.1 1090.0,163.6 1091.9,165.1 1093.8,166.7 1095.7,168.4 1097.5,170.1 1099.3,171.9 1101.0,173.7 1102.7,175.6 1104.4,177.5 1106.0,179.5 1107.6,181.4 1109.2,183.4 1110.8,185.5 1112.4,187.5 1114.0,189.5 1115.5,191.6 1117.1,193.6 1118.7,195.6 1120.3,197.6 1121.9,199.6 1123.5,201.5 1125.1,203.4 1126.7,205.3 1128.4,207.2 1130.0,209.0 1131.8,210.8 1133.5,212.6 1135.2,214.3 1137.0,216.0 1138.8,217.7 1140.7,219.3 1142.6,220.9 1144.5,222.5 1146.5,224.1 1148.5,225.6 1150.5,227.0 1152.6,228.5 1154.7,229.8 1156.9,231.1 1159.1,232.4 1161.3,233.6 1163.6,234.7 1165.8,235.7 1168.1,236.6 1170.4,237.5 1172.8,238.2 1175.1,238.9 1177.5,239.4 1179.9,239.8 1182.3,240.1 1184.7,240.3 1187.1,240.3 1189.6,240.2 1192.0,240.0 1194.4,239.6 1196.9,239.1 1199.3,238.5 1201.7,237.8 1204.1,237.0 1206.5,236.1 1208.8,235.1 1211.2,234.0 1213.5,232.9 1215.8,231.8 1218.0,230.6 1220.3,229.3 1222.5,228.0 1224.7,226.7 1226.9,225.4 1229.0,224.0 1231.2,222.6 1233.3,221.2 1235.5,219.8 1237.6,218.4 1239.7,217.0 1241.9,215.6 1244.0,214.2 1246.1,212.8 1248.3,211.5 1250.4,210.2 1252.6,208.9 1254.7,207.6 1256.9,206.5 1259.1,205.3 1261.3,204.2 1263.5,203.2 1265.7,202.3 1268.0,201.4 1270.2,200.6 1272.5,199.8 1274.9,199.2 1277.2,198.7 1279.6,198.2 1282.0,197.8 1284.4,197.5 1286.8,197.3 1289.3,197.2 1291.7,197.1 1294.2,197.1 1296.6,197.2 1299.1,197.4 1301.6,197.7 1304.0,198.0 1306.5,198.4 1309.0,198.9 1311.4,199.4 1313.8,200.0 1316.3,200.7 1318.7,201.5 1321.0,202.3 1323.4,203.2 1325.8,204.1 1328.1,205.1 1330.4,206.2 1332.6,207.4 1334.9,208.5 1337.1,209.8 1339.3,211.1 1341.4,212.4 1343.6,213.7 1345.7,215.1 1347.8,216.6 1349.9,218.0 1352.0,219.4 1354.1,220.9 1356.2,222.4 1358.3,223.8 1360.4,225.3 1362.4,226.8 1364.5,228.2 1366.6,229.6 1368.7,231.0 1370.8,232.4 1372.9,233.7 1375.1,235.0 1377.2,236.3 1379.4,237.5 1381.6,238.6 1383.8,239.7 1386.0,240.8 1388.3,241.7 1390.6,242.6 1392.9,243.5 1395.2,244.2 1397.6,244.9 1400.0,245.6 1402.4,246.2 1404.8,246.7 1407.2,247.1 1409.6,247.5 1412.1,247.8 1414.6,248.1 1417.0,248.3 1419.5,248.4 1422.0,248.5 1424.5,248.5 1427.0,248.5 1429.5,248.4 1432.0,248.3 1434.5,248.1 1436.9,247.9 1439.4,247.5 1441.9,247.2 1444.4,246.8 1446.8,246.3 1449.3,245.8 1451.7,245.3 1454.1,244.7 1456.5,244.0 1458.9,243.3 1461.3,242.6 1463.6,241.8 1465.9,240.9 1468.3,240.1 1470.5,239.2 1472.8,238.2 1475.1,237.2 1477.3,236.2 1479.6,235.1 1481.8,234.0 1484.0,232.9 1486.2,231.8 1488.4,230.6 1490.6,229.4 1492.8,228.2 1495.0,227.0 1497.1,225.8 1499.3,224.5 1501.5,223.2 1503.7,222.0 1505.9,220.7 1508.1,219.4 1510.2,218.1 1512.4,216.8 1514.7,215.5 1516.9,214.2 1519.1,213.0 1521.3,211.7 1523.6,210.4 1525.8,209.2 1528.0,207.9 1530.3,206.7 1532.6,205.5 1534.8,204.3 1537.1,203.2 1539.4,202.0 1541.7,200.9 1544.0,199.9 1546.3,198.8 1548.6,197.8 1551.0,196.9 1553.3,196.0 1555.7,195.1 1558.0,194.3 1560.4,193.5 1562.7,192.7 1565.1,192.1 1567.5,191.4 1569.9,190.9 1572.3,190.4 1574.7,189.9 1577.1,189.5 1579.5,189.1 1581.9,188.8 1584.3,188.5 1586.8,188.2 1589.2,188.0 1591.7,187.9 1594.1,187.7 1596.6,187.6 1599.0,187.6 1601.5,187.6 1604.0,187.6 1606.4,187.6 1608.9,187.7 1611.4,187.8 1613.9,187.9 1616.3,188.1 1618.8,188.3 1621.3,188.5 1623.8,188.7 1626.3,188.9 1628.8,189.2 1631.3,189.4 1633.8,189.7 1636.3,190.0 1638.8,190.4 1641.3,190.7 1643.8,191.0 1646.3,191.4 1648.8,191.7 1651.3,192.1 1653.7,192.4 1656.2,192.8 1658.7,193.2 1661.2,193.5 1663.7,193.9 1666.2,194.3 1668.7,194.6 1671.2,195.0 1673.7,195.3 1676.2,195.7 1678.7,196.0 1681.1,196.3 1683.6,196.6 1686.1,196.9 1688.6,197.2 1691.1,197.5 1693.6,197.7 1696.0,197.9 1698.5,198.1 1701.0,198.3 1703.5,198.5 1706.0,198.6 1708.4,198.7 1710.9,198.8 1713.4,198.9 1715.9,198.9 1718.4,198.9 1720.8,198.8 1723.3,198.8 1725.8,198.6 1728.3,198.5 1730.7,198.3 1733.2,198.1 1735.7,197.8 1738.1,197.5 1740.6,197.2 1743.1,196.8 1745.5,196.4 1748.0,195.9 1750.5,195.4 1752.9,194.9 1755.4,194.4 1757.8,193.8 1760.3,193.2 1762.7,192.6 1765.2,192.0 1767.6,191.3 1770.1,190.7 1772.5,190.0 1774.9,189.3 1777.4,188.6 1779.8,187.9 1782.2,187.1 1784.6,186.4 1787.0,185.7 1789.4,185.0 1791.8,184.2 1794.2,183.5 1796.6,182.8 1799.0,182.1 1801.4,181.4 1803.8,180.7 1806.1,180.0 1808.5,179.3 1810.8,178.7 1813.2,178.0 1815.5,177.4 1817.8,176.8"/>
<path stroke="#0000ff" d="M264.7,245.8 266.4,244.1 268.2,242.4 269.9,240.7 271.6,238.9 273.4,237.2 275.1,235.4 276.9,233.6 278.6,231.8 280.4,230.0 282.1,228.2 283.8,226.3 285.5,224.5 287.3,222.6 289.0,220.8 290.7,218.9 292.3,217.0 294.0,215.1 295.7,213.2 297.3,211.3 298.9,209.4 300.5,207.6 302.1,205.7 303.7,203.8 305.2,201.9 306.8,200.0 308.3,198.1 309.8,196.2 311.4,194.3 313.0,192.5 314.6,190.6 316.3,188.7 318.0,186.9 319.8,185.1 321.7,183.2 323.7,181.4 325.8,179.6 328.0,177.9 330.2,176.4 332.3,175.2 334.4,174.3 336.4,173.8 338.4,173.7 340.1,174.2 341.8,175.1 343.3,176.4 344.8,178.0 346.2,180.0 347.5,182.2 348.7,184.5 350.0,187.1 351.2,189.7 352.4,192.3 353.6,195.0 354.9,197.6 356.2,200.1 357.5,202.4 358.9,204.6 360.3,206.7 361.8,208.7 363.3,210.6 364.8,212.4 366.3,214.2 367.9,215.9 369.4,217.7 371.0,219.4 372.5,221.2 374.1,223.0 375.6,224.8 377.1,226.7 378.6,228.7 380.1,230.7 381.5,232.7 382.9,234.8 384.2,236.9 385.5,239.0 386.8,241.1 388.0,243.3 389.2,245.5 390.3,247.8 391.3,250.0 392.3,252.3 393.2,254.5 394.1,256.8 394.9,259.2 395.7,261.5 396.4,263.8 397.1,266.2 397.8,268.6 398.4,271.0 398.9,273.4 399.4,275.8 399.9,278.2 400.3,280.6 400.8,283.1 401.1,285.6 401.5,288.0 401.8,290.5 402.1,293.0 402.4,295.5 402.7,298.0 402.9,300.5 403.1,303.0 403.3,305.5 403.5,308.0 403.7,310.5 403.9,313.0 404.0,315.6 404.2,318.1 404.3,320.6 404.5,323.1 404.6,325.7 404.8,328.2 404.9,330.7 405.1,333.2 405.2,335.7 405.4,338.3 405.5,340.8 405.7,343.3 405.9,345.8 406.0,348.3 406.2,350.8 406.3,353.3 406.5,355.9 406.7,358.4 406.8,360.9 407.0,363.4 407.2,365.9 407.3,368.4 407.5,370.9 407.7,373.4 407.8,375.9 408.0,378.4 408.2,380.9 408.4,383.4 408.5,385.9 408.7,388.4 408.9,390.9 409.0,393.4 409.2,395.9 409.4,398.4 409.6,400.9 409.8,403.4 409.9,405.9 410.1,408.4 410.3,410.9 410.5,413.4 410.6,415.9 410.8,418.4 411.0,420.9 411.2,423.4 411.4,425.9 411.6,428.4 411.7,430.9 411.9,433.4 412.1,435.9 412.3,438.3 412.5,440.8 412.7,443.3 412.8,445.8 413.0,448.3 413.2,450.8 413.4,453.3 413.6,455.8 413.8,458.3 413.9,460.7 414.1,463.2 414.3,465.7 414.5,468.2 414.7,470.7 414.9,473.2 415.1,475.7 415.2,478.1 415.4,480.6 415.6,483.1 415.8,485.6 416.0,488.1 416.2,490.6 416.3,493.1 416.5,495.5 416.7,498.0 416.9,500.5 417.1,503.0 417.3,505.5 417.4,508.0 417.6,510.4 417.8,512.9 418.0,515.4 418.2,517.9 418.4,520.4 418.5,522.9 418.7,525.3 418.9,527.8 419.1,530.3 419.3,532.8 419.4,535.3 419.6,537.8 419.8,540.3 420.0,542.7 420.2,545.2 420.3,547.7 420.5,550.2 420.7,552.7 420.9,555.2 421.0,557.6 421.2,560.1 421.4,562.6 421.5,565.1 421.7,567.6 421.9,570.1 422.1,572.6 422.2,575.1 422.4,577.5 422.6,580.0 422.7,582.5 422.9,585.0 423.0,587.5 423.2,590.0 423.4,592.5 423.5,595.0 423.7,597.5 423.9,600.0 424.0,602.5 424.2,604.9 424.3,607.4 424.5,609.9 424.6,612.4 424.8,614.9 424.9,617.4 425.1,619.9 425.2,622.4 425.4,624.9 425.5,627.4 425.7,629.9 425.8,632.4 426.0,634.9 426.1,637.4 426.3,639.9 426.4,642.4 426.6,644.9 426.7,647.4 426.9,649.9 427.0,652.4 427.2,654.9 427.3,657.4 427.5,659.9 427.6,662.4 427.8,664.9 427.9,667.4 428.1,669.9 428.2,672.4 428.4,674.9 428.5,677.4 428.7,679.9 428.8,682.4 429.0,684.9 429.1,687.4 429.3,689.9 429.4,692.4 429.6,694.9 429.7,697.4 429.9,699.9 430.0,702.4 430.2,704.9 430.4,707.4 430.5,709.9 430.7,712.4 430.8,714.9 431.0,717.4 431.2,719.9 431.3,722.4 431.5,724.9 431.7,727.4 431.8,729.9 432.0,732.4 432.2,734.9 432.4,737.4 432.5,739.9 432.7,742.4 432.9,744.9 433.1,747.4 433.2,749.9 433.4,752.4 433.6,754.9 433.8,757.4 434.0,759.9 434.2,762.4 434.4,764.9 434.6,767.4 434.8,769.9 435.0,772.4 435.2,774.9 435.4,777.4 435.6,779.9 435.8,782.4 436.0,784.9 436.2,787.4 436.5,789.9 436.7,792.4 436.9,794.9 437.1,797.4 437.4,799.9 437.6,802.4 437.8,804.9 438.1,807.4 438.3,809.8 438.6,812.3 438.8,814.8 439.1,817.3 439.3,819.8 439.6,822.3 439.8,824.8 440.1,827.3 440.4,829.8 440.6,832.2 440.9,834.7 441.2,837.2 441.5,839.7 441.8,842.2 442.0,844.7 442.3,847.1 442.6,849.6 442.9,852.1 443.2,854.6 443.5,857.1 443.9,859.5 444.2,862.0 444.5,864.5 444.8,867.0 445.2,869.4 445.5,871.9 445.8,874.4 446.2,876.9 446.5,879.3 446.9,881.8 447.2,884.3 447.6,886.7 447.9,889.2 448.3,891.7 448.7,894.1 449.1,896.6 449.4,899.1 449.8,901.5 450.2,904.0 450.6,906.5 451.0,908.9 451.4,911.4 451.8,913.8 452.2,916.3 452.7,918.8 453.1,921.2 453.5,923.7 454.0,926.1 454.4,928.6 454.9,931.0 455.3,933.5 455.8,935.9 456.2,938.4 456.7,940.8 457.2,943.3 457.7,945.7 458.2,948.1 458.7,950.6 459.2,953.0 459.7,955.5 460.2,957.9 460.7,960.3 461.3,962.8 461.8,965.2 462.4,967.6 463.0,970.0 463.7,972.4 464.3,974.8 465.0,977.2 465.7,979.6 466.5,982.0 467.3,984.3 468.1,986.7 469.0,989.1 469.9,991.4 470.9,993.7 471.9,996.0 473.0,998.3 474.1,1000.6 475.3,1002.9 476.5,1005.2 477.8,1007.4 479.1,1009.6 480.6,1011.8 482.0,1014.0 483.6,1016.0 485.3,1017.9 487.2,1019.5 489.1,1020.8 491.3,1021.8 493.5,1022.4 495.8,1022.8 498.2,1022.8 500.5,1022.5 502.9,1021.9 505.1,1021.0 507.3,1019.9 509.4,1018.5 511.4,1017.0 513.4,1015.3 515.2,1013.4 516.9,1011.4 518.6,1009.4 520.1,1007.3 521.5,1005.2 522.9,1003.0 524.1,1000.9 525.3,998.6 526.4,996.4 527.5,994.1 528.4,991.8 529.3,989.5 530.2,987.2 531.0,984.8 531.7,982.5 532.4,980.1 533.1,977.7 533.7,975.3 534.3,972.8 534.9,970.4 535.5,968.0 536.1,965.5 536.6,963.1 537.2,960.7 537.7,958.2 538.3,955.8 538.8,953.3 539.3,950.9 539.8,948.5 540.4,946.0 540.9,943.6 541.4,941.1 541.9,938.7 542.4,936.2 542.9,933.8 543.4,931.3 543.9,928.9 544.3,926.4 544.8,924.0 545.3,921.5 545.8,919.1 546.2,916.6 546.7,914.2 547.1,911.7 547.6,909.3 548.0,906.8 548.5,904.4 548.9,901.9 549.3,899.4 549.8,897.0 550.2,894.5 550.6,892.1 551.0,889.6 551.4,887.1 551.8,884.7 552.2,882.2 552.6,879.8 553.0,877.3 553.4,874.8 553.8,872.4 554.2,869.9 554.6,867.4 554.9,865.0 555.3,862.5 555.7,860.0 556.0,857.6 556.4,855.1 556.7,852.6 557.1,850.1 557.4,847.7 557.8,845.2 558.1,842.7 558.5,840.3 558.8,837.8 559.1,835.3 559.5,832.8 559.8,830.4 560.1,827.9 560.4,825.4 560.7,822.9 561.0,820.4 561.4,818.0 561.7,815.5 562.0,813.0 562.3,810.5 562.5,808.0 562.8,805.6 563.1,803.1 563.4,800.6 563.7,798.1 564.0,795.6 564.3,793.2 564.5,790.7 564.8,788.2 565.1,785.7 565.3,783.2 565.6,780.7 565.9,778.2 566.1,775.8 566.4,773.3 566.6,770.8 566.9,768.3 567.1,765.8 567.4,763.3 567.6,760.8 567.9,758.3 568.1,755.9 568.3,753.4 568.6,750.9 568.8,748.4 569.0,745.9 569.2,743.4 569.5,740.9 569.7,738.4 569.9,735.9 570.1,733.4 570.3,730.9 570.6,728.5 570.8,726.0 571.0,723.5 571.2,721.0 571.4,718.5 571.6,716.0 571.8,713.5 572.0,711.0 572.2,708.5 572.4,706.0 572.6,703.5 572.8,701.0 573.0,698.5 573.2,696.0 573.4,693.5 573.6,691.0 573.8,688.5 573.9,686.0 574.1,683.5 574.3,681.0 574.5,678.5 574.7,676.0 574.9,673.5 575.0,671.0 575.2,668.6 575.4,666.1 575.6,663.6 575.7,661.1 575.9,658.6 576.1,656.1 576.3,653.6 576.4,651.1 576.6,648.6 576.8,646.1 576.9,643.6 577.1,641.1 577.3,638.6 577.5,636.1 577.6,633.6 577.8,631.1 577.9,628.6 578.1,626.1 578.3,623.6 578.4,621.1 578.6,618.6 578.8,616.1 578.9,613.6 579.1,611.1 579.3,608.6 579.4,606.1 579.6,603.6 579.7,601.1 579.9,598.6 580.1,596.1 580.2,593.6 580.4,591.1 580.5,588.6 580.7,586.1 580.9,583.6 581.0,581.1 581.2,578.6 581.3,576.1 581.5,573.6 581.7,571.1 581.8,568.6 582.0,566.1 582.1,563.6 582.3,561.1 582.5,558.6 582.6,556.1 582.8,553.6 582.9,551.1 583.1,548.6 583.3,546.1 583.4,543.6 583.6,541.1 583.7,538.6 583.9,536.1 584.1,533.6 584.2,531.1 584.4,528.6 584.5,526.1 584.7,523.6 584.9,521.1 585.0,518.6 585.2,516.1 585.3,513.6 585.5,511.1 585.7,508.6 585.8,506.1 586.0,503.6 586.1,501.1 586.3,498.6 586.5,496.1 586.6,493.6 586.8,491.1 587.0,488.6 587.1,486.1 587.3,483.6 587.4,481.1 587.6,478.6 587.8,476.1 587.9,473.6 588.1,471.1 588.3,468.6 588.4,466.1 588.6,463.6 588.8,461.1 588.9,458.6 589.1,456.2 589.3,453.7 589.4,451.2 589.6,448.7 589.8,446.2 589.9,443.7 590.1,441.2 590.3,438.7 590.4,436.2 590.6,433.7 590.8,431.2 591.0,428.7 591.1,426.2 591.3,423.7 591.5,421.2 591.6,418.7 591.8,416.2 592.0,413.8 592.2,411.3 592.3,408.8 592.5,406.3 592.7,403.8 592.9,401.3 593.0,398.8 593.2,396.3 593.4,393.8 593.6,391.3 593.8,388.8 593.9,386.4 594.1,383.9 594.3,381.4 594.5,378.9 594.7,376.4 594.8,373.9 595.0,371.4 595.2,368.9 595.4,366.4 595.6,363.9 595.8,361.5 596.0,359.0 596.1,356.5 596.3,354.0 596.5,351.5 596.7,349.0 596.9,346.5 597.1,344.1 597.3,341.6 597.5,339.1 597.7,336.6 597.9,334.1 598.0,331.6 598.2,329.1 598.4,326.7 598.6,324.2 598.8,321.7 599.0,319.2 599.2,316.7 599.4,314.2 599.6,311.8 599.8,309.3 600.0,306.8 600.2,304.3 600.4,301.8 600.6,299.3 600.9,296.9 601.1,294.4 601.3,291.9 601.5,289.4 601.7,286.9 601.9,284.5 602.1,282.0 602.3,279.5 602.5,277.0 602.8,274.5 603.0,272.1 603.2,269.6 603.4,267.1 603.6,264.6 603.8,262.2 604.1,259.7 604.3,257.2 604.5,254.7 604.7,252.3 605.0,249.8 605.2,247.3 605.4,244.8 605.7,242.3 605.9,239.9 606.1,237.4 606.4,234.9 606.7,232.4 606.9,229.9 607.2,227.4 607.5,224.9 607.8,222.4 608.1,219.9 608.4,217.4 608.7,214.9 609.0,212.3 609.3,209.8 609.7,207.3 610.0,204.7 610.4,202.2 610.8,199.6 611.2,197.0 611.6,194.5 612.0,191.9 612.4,189.3 612.9,186.7 613.4,184.2 613.9,181.6 614.6,179.2 615.3,176.8 616.1,174.4 617.0,172.2 618.1,170.2 619.3,168.2 620.6,166.4 622.2,164.9 623.9,163.7 625.6,163.3 627.4,163.6 629.1,164.7 630.8,166.2 632.5,168.2 634.1,170.5 635.5,172.8 636.9,175.1 638.0,177.4 639.1,179.7 640.1,182.0 641.1,184.3 642.0,186.7 642.9,189.1 643.9,191.6 644.9,194.1 646.0,196.5 647.2,198.8 648.6,200.9 650.1,202.9 651.9,204.6 653.9,206.1 656.0,207.2 658.3,208.1 660.7,208.6 663.1,208.8 665.4,208.6 667.6,208.0 669.5,207.0 671.3,205.7 672.9,204.0 674.3,202.0 675.7,199.9 677.1,197.7 678.6,195.4 680.1,193.2 681.7,191.0 683.4,188.8 685.1,186.8 687.0,184.8 688.9,182.9 690.8,181.1 692.8,179.4 694.9,177.8 697.0,176.4 699.1,175.1 701.2,174.0 703.4,173.1 705.6,172.3 707.8,171.7 709.9,171.4 712.1,171.3 714.3,171.4 716.4,171.7 718.5,172.3 720.6,173.1 722.6,174.2 724.7,175.5 726.7,177.0 728.6,178.7 730.6,180.4 732.6,182.3 734.5,184.2 736.4,186.2 738.4,188.2 740.3,190.2 742.3,192.1 744.3,194.0 746.2,195.8 748.2,197.4 750.3,199.0 752.3,200.3 754.4,201.5 756.5,202.5 758.7,203.2 760.9,203.7 763.2,203.9 765.5,203.8 767.9,203.4 770.4,202.7 772.8,201.8 775.2,200.7 777.5,199.4 779.7,198.0 781.8,196.6 783.8,195.1 785.7,193.5 787.5,191.9 789.2,190.2 790.9,188.5 792.5,186.7 794.1,184.9 795.6,183.1 797.1,181.3 798.6,179.4 800.1,177.5 801.7,175.5 803.3,173.6 804.9,171.6 806.5,169.7 808.3,167.7 810.1,165.8 812.0,163.8 814.0,161.9 816.1,160.1 818.2,158.3 820.4,156.6 822.6,155.1 824.8,153.8 827.1,152.7 829.3,151.9 831.5,151.3 833.7,151.0 835.9,151.1 838.0,151.5 840.1,152.2 842.1,153.1 844.1,154.2 846.0,155.6 847.9,157.1 849.8,158.8 851.6,160.7 853.4,162.6 855.1,164.6 856.8,166.6 858.5,168.7 860.1,170.7 861.7,172.8 863.2,174.9 864.7,177.0 866.1,179.0 867.6,181.1 869.0,183.2 870.4,185.3 871.7,187.4 873.1,189.5 874.4,191.6 875.7,193.7 877.0,195.8 878.3,197.8 879.6,199.9 880.9,202.0 882.2,204.1 883.5,206.2 884.8,208.3 886.1,210.4 887.4,212.5 888.7,214.6 890.1,216.7 891.4,218.8 892.8,220.8 894.2,222.9 895.7,224.9 897.2,226.9 898.7,228.9 900.4,230.8 902.0,232.8 903.8,234.6 905.6,236.5 907.5,238.2 909.5,239.9 911.6,241.6 913.8,243.1 916.0,244.5 918.3,245.8 920.6,246.8 922.9,247.5 925.2,248.0 927.5,248.1 929.7,247.9 932.0,247.4 934.2,246.6 936.4,245.6 938.5,244.4 940.6,243.0 942.7,241.4 944.7,239.7 946.7,238.0 948.6,236.1 950.5,234.2 952.3,232.3 954.0,230.3 955.7,228.4 957.3,226.4 958.9,224.5 960.5,222.5 962.0,220.6 963.5,218.6 964.9,216.6 966.3,214.7 967.7,212.7 969.1,210.7 970.5,208.7 971.8,206.7 973.1,204.7 974.5,202.7 975.8,200.7 977.2,198.7 978.5,196.7 979.9,194.6 981.3,192.6 982.7,190.6 984.2,188.5 985.6,186.5 987.2,184.5 988.7,182.4 990.3,180.4 991.9,178.3 993.6,176.3 995.3,174.2 997.1,172.2 998.9,170.2 1000.8,168.3 1002.7,166.4 1004.6,164.6 1006.6,162.9 1008.6,161.3 1010.6,159.7 1012.7,158.3 1014.7,157.1 1016.8,155.9 1018.9,155.0 1021.1,154.2 1023.2,153.6 1025.3,153.2 1027.5,152.9 1029.7,152.9 1031.8,153.2 1034.0,153.6 1036.1,154.2 1038.3,155.0 1040.4,156.0 1042.6,157.2 1044.7,158.4 1046.8,159.9 1048.9,161.4 1050.9,163.1 1052.9,164.8 1054.9,166.7 1056.9,168.6 1058.8,170.6 1060.7,172.6 1062.5,174.7 1064.4,176.8 1066.1,178.9 1067.8,181.0 1069.5,183.1 1071.1,185.2 1072.6,187.3 1074.1,189.3 1075.5,191.3 1076.9,193.3 1078.3,195.3 1079.6,197.2 1081.0,199.2 1082.3,201.1 1083.5,203.0 1084.8,205.0 1086.1,206.9 1087.4,208.8 1088.7,210.7 1090.0,212.7 1091.4,214.6 1092.7,216.6 1094.1,218.6 1095.6,220.6 1097.1,222.7 1098.6,224.7 1100.2,226.8 1101.9,228.8 1103.5,230.9 1105.3,232.9 1107.0,234.9 1108.8,236.8 1110.7,238.7 1112.6,240.5 1114.5,242.2 1116.5,243.9 1118.6,245.4 1120.6,246.9 1122.7,248.3 1124.9,249.5 1127.1,250.6 1129.3,251.5 1131.6,252.3 1133.9,253.0 1136.3,253.5 1138.6,253.8 1141.0,254.0 1143.5,254.0 1145.9,253.9 1148.4,253.7 1150.8,253.3 1153.3,252.9 1155.7,252.3 1158.1,251.6 1160.5,250.9 1162.9,250.1 1165.3,249.2 1167.6,248.2 1169.8,247.2 1172.1,246.1 1174.3,244.9 1176.4,243.7 1178.6,242.5 1180.7,241.2 1182.8,239.8 1184.8,238.4 1186.9,237.0 1188.9,235.5 1190.8,234.0 1192.8,232.4 1194.7,230.8 1196.7,229.2 1198.6,227.5 1200.4,225.8 1202.3,224.1 1204.1,222.4 1206.0,220.7 1207.8,218.9 1209.6,217.2 1211.5,215.5 1213.3,213.7 1215.2,212.1 1217.1,210.4 1219.1,208.8 1221.1,207.3 1223.1,205.8 1225.2,204.4 1227.3,203.1 1229.5,201.8 1231.7,200.6 1233.9,199.4 1236.2,198.4 1238.5,197.3 1240.8,196.4 1243.1,195.5 1245.5,194.7 1247.9,194.0 1250.3,193.3 1252.7,192.7 1255.1,192.2 1257.6,191.8 1260.0,191.4 1262.5,191.1 1265.0,190.9 1267.4,190.8 1269.9,190.8 1272.3,190.8 1274.8,190.9 1277.2,191.1 1279.6,191.3 1282.1,191.7 1284.5,192.1 1286.8,192.6 1289.2,193.2 1291.5,193.9 1293.8,194.7 1296.1,195.6 1298.4,196.5 1300.6,197.5 1302.8,198.6 1305.0,199.7 1307.2,200.9 1309.4,202.1 1311.6,203.4 1313.7,204.7 1315.9,206.0 1318.0,207.3 1320.2,208.7 1322.3,210.1 1324.4,211.5 1326.6,212.9 1328.7,214.3 1330.9,215.6 1333.1,217.0 1335.2,218.3 1337.4,219.6 1339.7,220.9 1341.9,222.2 1344.1,223.4 1346.4,224.5 1348.7,225.6 1351.0,226.6 1353.3,227.6 1355.7,228.5 1358.1,229.3 1360.5,230.1 1362.9,230.8 1365.3,231.4 1367.8,232.0 1370.2,232.5 1372.7,233.0 1375.2,233.4 1377.6,233.7 1380.1,234.0 1382.6,234.2 1385.1,234.4 1387.6,234.5 1390.1,234.5 1392.6,234.5 1395.0,234.4 1397.5,234.2 1400.0,234.0 1402.4,233.7 1404.9,233.4 1407.3,233.0 1409.7,232.5 1412.1,232.0 1414.4,231.5 1416.8,230.9 1419.2,230.2 1421.5,229.5 1423.8,228.7 1426.1,227.9 1428.4,227.0 1430.7,226.1 1433.0,225.2 1435.3,224.3 1437.6,223.3 1439.8,222.2 1442.1,221.2 1444.3,220.1 1446.6,219.0 1448.8,217.8 1451.1,216.7 1453.3,215.5 1455.5,214.3 1457.7,213.1 1459.9,211.8 1462.2,210.6 1464.4,209.4 1466.6,208.1 1468.8,206.9 1471.0,205.6 1473.2,204.4 1475.5,203.1 1477.7,201.9 1479.9,200.6 1482.1,199.4 1484.4,198.1 1486.6,196.9 1488.8,195.7 1491.1,194.6 1493.3,193.4 1495.6,192.3 1497.9,191.1 1500.1,190.0 1502.4,189.0 1504.7,187.9 1507.0,186.9 1509.3,186.0 1511.6,185.0 1513.9,184.1 1516.2,183.3 1518.5,182.5 1520.9,181.7 1523.2,181.0 1525.6,180.3 1528.0,179.7 1530.3,179.2 1532.7,178.6 1535.1,178.2 1537.6,177.8 1540.0,177.4 1542.4,177.1 1544.9,176.9 1547.3,176.6 1549.8,176.5 1552.2,176.3 1554.7,176.2 1557.2,176.2 1559.7,176.1 1562.2,176.1 1564.7,176.2 1567.2,176.3 1569.7,176.4 1572.2,176.5 1574.7,176.6 1577.2,176.8 1579.7,177.0 1582.2,177.2 1584.7,177.4 1587.2,177.7 1589.7,178.0 1592.2,178.2 1594.8,178.5 1597.3,178.8 1599.8,179.1 1602.3,179.4 1604.8,179.8 1607.3,180.1 1609.8,180.4 1612.3,180.7 1614.8,181.0 1617.3,181.3 1619.8,181.7 1622.3,182.0 1624.8,182.3 1627.3,182.5 1629.8,182.8 1632.3,183.1 1634.8,183.3 1637.3,183.5 1639.8,183.7 1642.3,183.9 1644.8,184.1 1647.3,184.2 1649.8,184.3 1652.3,184.4 1654.8,184.5 1657.2,184.5 1659.7,184.5 1662.2,184.5 1664.7,184.4 1667.1,184.3 1669.6,184.2 1672.1,184.0 1674.5,183.8 1677.0,183.6 1679.4,183.3 1681.9,183.0 1684.4,182.7 1686.8,182.3 1689.3,181.9 1691.7,181.5 1694.2,181.1 1696.6,180.6 1699.0,180.1 1701.5,179.6 1703.9,179.1 1706.4,178.6 1708.8,178.0 1711.2,177.5 1713.7,176.9 1716.1,176.3 1718.5,175.6 1721.0,175.0 1723.4,174.4 1725.8,173.7 1728.2,173.0 1730.7,172.4 1733.1,171.7 1735.5,171.0 1737.9,170.3 1740.3,169.6 1742.8,168.9 1745.2,168.2 1747.6,167.5 1750.0,166.8 1752.4,166.1 1754.9,165.4 1757.3,164.7 1759.7,164.0 1762.1,163.3 1764.5,162.6 1766.9,161.9 1769.4,161.2 1771.8,160.6 1774.2,159.9 1776.6,159.3 1779.0,158.6 1781.4,158.0 1783.8,157.4 1786.3,156.8 1788.7,156.2 1791.1,155.7 1793.5,155.2 1795.9,154.6 1798.3,154.1 1800.8,153.7 1803.2,153.2 1805.6,152.8 1808.0,152.4 1810.5,152.0 1812.9,151.7 1815.3,151.3 1817.7,151.0"/>
<path stroke="#008080" d="M264.2,221.9 265.7,219.9 267.2,218.0 268.7,216.0 270.1,214.0 271.6,211.9 273.1,209.9 274.5,207.9 276.0,205.8 277.4,203.8 278.9,201.8 280.5,199.8 282.0,197.8 283.6,195.9 285.2,193.9 286.8,192.0 288.5,190.2 290.3,188.4 292.1,186.6 294.0,184.9 295.9,183.2 297.9,181.6 299.9,180.1 302.1,178.6 304.2,177.3 306.4,176.3 308.6,175.5 310.8,175.0 312.9,175.0 314.9,175.5 316.7,176.5 318.5,178.0 320.2,179.8 321.8,182.0 323.3,184.3 324.7,186.7 326.0,189.1 327.2,191.5 328.3,193.8 329.4,196.1 330.5,198.4 331.5,200.7 332.5,202.9 333.5,205.2 334.4,207.5 335.4,209.9 336.4,212.3 337.6,214.6 338.8,216.7 340.3,218.6 342.1,220.2 344.1,221.4 346.5,222.1 349.1,222.6 351.7,222.9 354.4,223.2 357.0,223.5 359.4,224.1 361.5,224.9 363.3,226.0 365.0,227.3 366.4,228.9 367.7,230.6 368.8,232.5 369.7,234.6 370.5,236.8 371.2,239.1 371.8,241.5 372.3,243.9 372.8,246.4 373.3,248.9 373.7,251.5 374.1,254.0 374.6,256.5 375.0,259.1 375.4,261.6 375.8,264.1 376.1,266.6 376.5,269.2 376.9,271.7 377.2,274.2 377.6,276.7 377.9,279.2 378.3,281.7 378.6,284.2 378.9,286.7 379.2,289.3 379.5,291.8 379.8,294.3 380.1,296.8 380.4,299.3 380.7,301.8 381.0,304.3 381.2,306.8 381.5,309.3 381.8,311.8 382.0,314.3 382.3,316.8 382.5,319.3 382.7,321.8 383.0,324.3 383.2,326.8 383.4,329.3 383.6,331.7 383.8,334.2 384.1,336.7 384.3,339.2 384.5,341.7 384.7,344.2 384.8,346.7 385.0,349.2 385.2,351.7 385.4,354.2 385.6,356.6 385.8,359.1 385.9,361.6 386.1,364.1 386.3,366.6 386.4,369.1 386.6,371.6 386.8,374.0 386.9,376.5 387.1,379.0 387.2,381.5 387.4,384.0 387.5,386.5 387.7,389.0 387.8,391.4 388.0,393.9 388.1,396.4 388.3,398.9 388.4,401.4 388.6,403.9 388.7,406.4 388.9,408.9 389.0,411.3 389.2,413.8 389.3,416.3 389.5,418.8 389.6,421.3 389.8,423.8 389.9,426.3 390.1,428.8 390.2,431.3 390.4,433.8 390.5,436.2 390.7,438.7 390.8,441.2 391.0,443.7 391.1,446.2 391.2,448.7 391.4,451.2 391.5,453.7 391.7,456.2 391.8,458.7 392.0,461.2 392.1,463.7 392.3,466.1 392.4,468.6 392.5,471.1 392.7,473.6 392.8,476.1 393.0,478.6 393.1,481.1 393.3,483.6 393.4,486.1 393.6,488.6 393.7,491.1 393.8,493.6 394.0,496.1 394.1,498.6 394.3,501.1 394.4,503.6 394.6,506.1 394.7,508.6 394.9,511.1 395.0,513.5 395.1,516.0 395.3,518.5 395.4,521.0 395.6,523.5 395.7,526.0 395.9,528.5 396.0,531.0 396.2,533.5 396.3,536.0 396.5,538.5 396.6,541.0 396.7,543.5 396.9,546.0 397.0,548.5 397.2,551.0 397.3,553.5 397.5,556.0 397.6,558.5 397.8,561.0 397.9,563.5 398.1,566.0 398.2,568.5 398.4,571.0 398.5,573.5 398.7,576.0 398.8,578.5 399.0,581.0 399.1,583.5 399.3,586.0 399.4,588.5 399.6,591.0 399.7,593.5 399.9,596.0 400.0,598.5 400.2,601.0 400.3,603.5 400.5,606.0 400.6,608.5 400.8,611.0 400.9,613.5 401.1,616.0 401.2,618.5 401.4,621.0 401.5,623.5 401.7,626.0 401.9,628.5 402.0,631.0 402.2,633.5 402.3,636.0 402.5,638.5 402.6,641.0 402.8,643.5 403.0,646.0 403.1,648.5 403.3,651.0 403.4,653.5 403.6,656.0 403.8,658.5 403.9,661.0 404.1,663.5 404.3,666.0 404.4,668.5 404.6,671.0 404.8,673.5 404.9,676.0 405.1,678.5 405.3,681.0 405.4,683.5 405.6,686.0 405.8,688.5 405.9,691.0 406.1,693.5 406.3,696.0 406.4,698.5 406.6,701.0 406.8,703.5 407.0,706.0 407.1,708.5 407.3,711.0 407.5,713.5 407.7,716.0 407.8,718.5 408.0,721.0 408.2,723.5 408.4,726.0 408.6,728.5 408.7,731.0 408.9,733.5 409.1,736.0 409.3,738.5 409.5,740.9 409.6,743.4 409.8,745.9 410.0,748.4 410.2,750.9 410.4,753.4 410.6,755.9 410.8,758.4 411.0,760.9 411.1,763.4 411.3,765.9 411.5,768.4 411.7,770.9 411.9,773.4 412.1,775.9 412.3,778.4 412.5,780.9 412.7,783.4 412.9,785.9 413.1,788.4 413.3,790.9 413.5,793.4 413.7,795.9 413.9,798.3 414.1,800.8 414.3,803.3 414.5,805.8 414.7,808.3 415.0,810.8 415.2,813.3 415.4,815.8 415.6,818.3 415.8,820.8 416.0,823.3 416.3,825.8 416.5,828.3 416.7,830.7 416.9,833.2 417.2,835.7 417.4,838.2 417.6,840.7 417.9,843.2 418.1,845.7 418.4,848.2 418.6,850.6 418.9,853.1 419.2,855.6 419.4,858.1 419.7,860.6 420.0,863.1 420.3,865.5 420.6,868.0 420.8,870.5 421.1,873.0 421.4,875.5 421.8,877.9 422.1,880.4 422.4,882.9 422.7,885.4 423.0,887.8 423.4,890.3 423.7,892.8 424.1,895.2 424.4,897.7 424.8,900.2 425.2,902.6 425.6,905.1 426.0,907.6 426.4,910.0 426.8,912.5 427.2,915.0 427.6,917.4 428.0,919.9 428.5,922.3 428.9,924.8 429.4,927.2 429.8,929.7 430.3,932.1 430.8,934.6 431.3,937.0 431.8,939.5 432.3,941.9 432.8,944.4 433.3,946.8 433.9,949.3 434.4,951.7 435.0,954.1 435.6,956.6 436.2,959.0 436.7,961.4 437.4,963.9 438.0,966.3 438.6,968.7 439.2,971.1 439.9,973.6 440.6,976.0 441.2,978.4 441.9,980.8 442.6,983.2 443.3,985.7 444.1,988.1 444.8,990.5 445.5,992.9 446.3,995.3 447.1,997.7 447.9,1000.1 448.8,1002.4 449.7,1004.8 450.7,1007.0 451.8,1009.2 452.9,1011.4 454.2,1013.4 455.7,1015.4 457.3,1017.2 459.0,1018.9 460.9,1020.5 463.1,1022.0 465.3,1023.2 467.6,1024.2 470.0,1024.8 472.4,1025.1 474.8,1024.9 477.1,1024.3 479.3,1023.4 481.4,1022.1 483.5,1020.6 485.4,1018.9 487.1,1017.0 488.7,1015.0 490.2,1013.0 491.5,1010.8 492.7,1008.6 493.8,1006.4 494.9,1004.1 495.9,1001.7 496.8,999.4 497.8,997.1 498.7,994.7 499.6,992.4 500.5,990.1 501.4,987.7 502.3,985.4 503.1,983.0 503.9,980.6 504.8,978.3 505.6,975.9 506.3,973.5 507.1,971.2 507.9,968.8 508.6,966.4 509.4,964.0 510.1,961.6 510.8,959.3 511.5,956.9 512.1,954.5 512.8,952.1 513.5,949.7 514.1,947.2 514.7,944.8 515.3,942.4 515.9,940.0 516.5,937.6 517.1,935.2 517.7,932.7 518.2,930.3 518.8,927.9 519.3,925.5 519.8,923.0 520.3,920.6 520.8,918.2 521.3,915.7 521.8,913.3 522.3,910.8 522.7,908.4 523.2,905.9 523.6,903.5 524.0,901.0 524.5,898.6 524.9,896.1 525.3,893.6 525.7,891.2 526.1,888.7 526.5,886.2 526.8,883.8 527.2,881.3 527.6,878.8 527.9,876.4 528.3,873.9 528.6,871.4 528.9,868.9 529.3,866.5 529.6,864.0 529.9,861.5 530.2,859.0 530.5,856.5 530.8,854.0 531.1,851.6 531.4,849.1 531.7,846.6 532.0,844.1 532.2,841.6 532.5,839.1 532.8,836.6 533.0,834.1 533.3,831.6 533.5,829.1 533.8,826.6 534.0,824.2 534.3,821.7 534.5,819.2 534.8,816.7 535.0,814.2 535.3,811.7 535.5,809.2 535.7,806.7 536.0,804.2 536.2,801.7 536.4,799.2 536.6,796.7 536.9,794.2 537.1,791.7 537.3,789.2 537.6,786.7 537.8,784.2 538.0,781.7 538.2,779.2 538.5,776.7 538.7,774.2 538.9,771.7 539.1,769.2 539.3,766.7 539.6,764.2 539.8,761.7 540.0,759.2 540.2,756.7 540.4,754.2 540.6,751.7 540.8,749.2 541.1,746.8 541.3,744.3 541.5,741.8 541.7,739.3 541.9,736.8 542.1,734.3 542.3,731.8 542.5,729.3 542.7,726.8 542.9,724.3 543.1,721.8 543.4,719.3 543.6,716.8 543.8,714.3 544.0,711.8 544.2,709.3 544.4,706.8 544.6,704.3 544.8,701.8 545.0,699.3 545.2,696.8 545.4,694.3 545.6,691.8 545.8,689.3 545.9,686.8 546.1,684.3 546.3,681.8 546.5,679.3 546.7,676.8 546.9,674.3 547.1,671.8 547.3,669.3 547.5,666.9 547.7,664.4 547.9,661.9 548.1,659.4 548.2,656.9 548.4,654.4 548.6,651.9 548.8,649.4 549.0,646.9 549.2,644.4 549.4,641.9 549.6,639.4 549.7,636.9 549.9,634.4 550.1,631.9 550.3,629.4 550.5,626.9 550.7,624.4 550.8,621.9 551.0,619.4 551.2,616.9 551.4,614.4 551.6,611.9 551.7,609.4 551.9,606.9 552.1,604.4 552.3,601.9 552.4,599.5 552.6,597.0 552.8,594.5 553.0,592.0 553.1,589.5 553.3,587.0 553.5,584.5 553.7,582.0 553.8,579.5 554.0,577.0 554.2,574.5 554.4,572.0 554.5,569.5 554.7,567.0 554.9,564.5 555.0,562.0 555.2,559.5 555.4,557.0 555.6,554.5 555.7,552.0 555.9,549.5 556.1,547.0 556.2,544.5 556.4,542.1 556.6,539.6 556.7,537.1 556.9,534.6 557.1,532.1 557.2,529.6 557.4,527.1 557.6,524.6 557.7,522.1 557.9,519.6 558.1,517.1 558.2,514.6 558.4,512.1 558.6,509.6 558.7,507.1 558.9,504.6 559.1,502.1 559.2,499.6 559.4,497.1 559.5,494.7 559.7,492.2 559.9,489.7 560.0,487.2 560.2,484.7 560.4,482.2 560.5,479.7 560.7,477.2 560.9,474.7 561.0,472.2 561.2,469.7 561.3,467.2 561.5,464.7 561.7,462.2 561.8,459.7 562.0,457.2 562.1,454.7 562.3,452.3 562.5,449.8 562.6,447.3 562.8,444.8 563.0,442.3 563.1,439.8 563.3,437.3 563.4,434.8 563.6,432.3 563.8,429.8 563.9,427.3 564.1,424.8 564.2,422.3 564.4,419.8 564.6,417.4 564.7,414.9 564.9,412.4 565.0,409.9 565.2,407.4 565.4,404.9 565.5,402.4 565.7,399.9 565.8,397.4 566.0,394.9 566.2,392.4 566.3,389.9 566.5,387.4 566.6,384.9 566.8,382.5 567.0,380.0 567.1,377.5 567.3,375.0 567.5,372.5 567.6,370.0 567.8,367.5 567.9,365.0 568.1,362.5 568.3,360.0 568.4,357.5 568.6,355.0 568.7,352.6 568.9,350.1 569.1,347.6 569.2,345.1 569.4,342.6 569.6,340.1 569.7,337.6 569.9,335.1 570.1,332.6 570.2,330.1 570.4,327.6 570.5,325.2 570.7,322.7 570.9,320.2 571.0,317.7 571.2,315.2 571.4,312.7 571.5,310.2 571.7,307.7 571.9,305.2 572.0,302.7 572.2,300.3 572.4,297.8 572.5,295.3 572.7,292.8 572.9,290.3 573.0,287.8 573.2,285.3 573.4,282.8 573.6,280.3 573.8,277.8 573.9,275.4 574.1,272.9 574.3,270.4 574.5,267.9 574.7,265.4 574.9,262.9 575.2,260.4 575.4,257.9 575.6,255.4 575.8,252.9 576.1,250.5 576.3,248.0 576.6,245.5 576.9,243.0 577.1,240.5 577.4,238.0 577.7,235.5 578.0,233.0 578.3,230.5 578.6,228.0 579.0,225.5 579.3,223.0 579.7,220.5 580.1,218.0 580.4,215.5 580.8,213.0 581.2,210.5 581.7,208.0 582.1,205.5 582.5,203.0 583.0,200.5 583.5,198.0 584.0,195.5 584.5,193.0 585.0,190.5 585.6,188.0 586.1,185.5 586.7,183.0 587.3,180.5 587.9,178.0 588.6,175.5 589.2,173.0 589.9,170.6 590.8,168.3 591.7,166.4 592.8,164.7 594.2,163.4 595.7,162.6 597.6,162.3 599.7,162.6 601.8,163.5 603.9,164.7 605.9,166.3 607.6,168.2 609.2,170.4 610.6,172.7 612.0,175.2 613.2,177.7 614.3,180.2 615.3,182.6 616.3,185.0 617.4,187.2 618.6,189.3 620.1,191.4 621.8,193.3 623.7,195.0 625.7,196.5 627.9,197.9 630.2,199.0 632.5,199.8 634.8,200.4 637.1,200.6 639.3,200.5 641.4,200.0 643.4,199.1 645.2,197.9 647.0,196.3 648.6,194.5 650.3,192.5 651.9,190.4 653.5,188.3 655.3,186.1 657.1,184.1 659.1,182.3 661.1,180.6 663.3,179.0 665.6,177.7 667.9,176.5 670.2,175.6 672.6,174.8 674.9,174.3 677.3,174.1 679.6,174.0 681.9,174.3 684.1,174.8 686.2,175.5 688.3,176.4 690.4,177.5 692.4,178.8 694.4,180.3 696.3,181.8 698.3,183.5 700.2,185.2 702.2,187.0 704.2,188.8 706.2,190.6 708.2,192.4 710.2,194.1 712.3,195.8 714.4,197.4 716.6,198.9 718.7,200.3 720.9,201.5 723.1,202.5 725.3,203.3 727.5,203.8 729.7,204.1 731.8,204.1 734.0,203.9 736.1,203.4 738.3,202.7 740.4,201.7 742.5,200.6 744.5,199.2 746.6,197.7 748.6,196.1 750.6,194.4 752.5,192.6 754.4,190.6 756.3,188.7 758.1,186.7 759.9,184.6 761.6,182.6 763.3,180.6 765.0,178.6 766.7,176.6 768.3,174.7 770.0,172.8 771.6,170.9 773.3,169.1 775.0,167.4 776.8,165.7 778.6,164.1 780.4,162.6 782.3,161.3 784.3,160.0 786.4,158.8 788.6,157.7 790.8,156.8 793.2,156.0 795.7,155.4 798.2,155.0 800.8,154.7 803.3,154.8 805.7,155.0 808.1,155.6 810.4,156.5 812.5,157.7 814.4,159.2 816.3,160.9 818.0,162.8 819.7,164.9 821.3,167.1 822.8,169.4 824.3,171.7 825.7,174.0 827.1,176.3 828.4,178.5 829.8,180.6 831.2,182.6 832.6,184.5 833.9,186.2 835.3,188.0 836.7,189.7 838.0,191.4 839.3,193.2 840.6,195.1 841.9,197.0 843.2,199.1 844.4,201.3 845.6,203.6 846.9,205.9 848.1,208.3 849.3,210.7 850.5,213.1 851.8,215.6 853.0,218.1 854.3,220.6 855.6,223.0 857.0,225.4 858.3,227.8 859.7,230.1 861.2,232.3 862.7,234.5 864.3,236.5 865.9,238.5 867.5,240.3 869.3,242.0 871.1,243.5 873.0,244.9 875.0,246.1 877.0,247.1 879.2,247.9 881.4,248.5 883.6,249.0 885.9,249.2 888.3,249.4 890.6,249.3 893.0,249.1 895.3,248.7 897.7,248.2 900.0,247.5 902.2,246.7 904.4,245.7 906.6,244.6 908.7,243.4 910.7,242.1 912.6,240.6 914.4,239.0 916.1,237.3 917.7,235.5 919.3,233.6 920.8,231.6 922.2,229.5 923.6,227.4 924.9,225.2 926.2,223.0 927.5,220.7 928.7,218.3 929.9,216.0 931.1,213.6 932.3,211.2 933.5,208.8 934.6,206.4 935.8,204.1 937.0,201.7 938.3,199.4 939.5,197.0 940.7,194.8 942.0,192.5 943.3,190.3 944.7,188.1 946.0,185.9 947.4,183.8 948.9,181.7 950.3,179.7 951.8,177.7 953.4,175.8 955.0,173.9 956.6,172.1 958.3,170.3 960.0,168.6 961.8,166.9 963.6,165.3 965.5,163.8 967.4,162.3 969.4,161.0 971.5,159.6 973.6,158.4 975.8,157.2 978.0,156.2 980.3,155.2 982.6,154.4 985.0,153.7 987.3,153.2 989.6,152.9 991.9,152.8 994.2,153.0 996.4,153.4 998.5,154.2 1000.6,155.2 1002.5,156.6 1004.3,158.3 1006.1,160.2 1007.8,162.3 1009.4,164.6 1011.1,166.9 1012.7,169.2 1014.3,171.4 1015.9,173.6 1017.5,175.8 1019.2,177.8 1020.8,179.9 1022.4,181.9 1024.0,183.8 1025.6,185.7 1027.2,187.6 1028.8,189.5 1030.4,191.4 1032.0,193.2 1033.5,195.1 1035.0,197.0 1036.5,198.8 1038.0,200.8 1039.4,202.7 1040.8,204.7 1042.2,206.7 1043.5,208.7 1044.8,210.8 1046.1,212.9 1047.4,215.0 1048.7,217.1 1050.0,219.2 1051.3,221.4 1052.6,223.5 1053.9,225.7 1055.2,227.9 1056.6,230.0 1058.0,232.2 1059.4,234.3 1060.8,236.5 1062.3,238.6 1063.8,240.7 1065.3,242.8 1067.0,244.9 1068.6,246.9 1070.3,248.9 1072.0,250.8 1073.8,252.7 1075.6,254.5 1077.5,256.3 1079.4,258.0 1081.3,259.5 1083.3,261.1 1085.3,262.5 1087.4,263.8 1089.4,265.0 1091.6,266.0 1093.7,267.0 1095.9,267.8 1098.1,268.5 1100.3,269.0 1102.6,269.4 1104.9,269.7 1107.2,269.7 1109.6,269.6 1112.0,269.4 1114.4,268.9 1116.8,268.4 1119.1,267.7 1121.5,266.8 1123.9,265.9 1126.2,264.8 1128.5,263.7 1130.8,262.4 1133.0,261.1 1135.2,259.7 1137.3,258.2 1139.3,256.6 1141.3,255.0 1143.3,253.4 1145.2,251.7 1147.1,249.9 1148.9,248.1 1150.7,246.3 1152.5,244.4 1154.2,242.5 1156.0,240.6 1157.7,238.6 1159.3,236.6 1161.0,234.7 1162.7,232.7 1164.3,230.7 1165.9,228.7 1167.6,226.7 1169.2,224.7 1170.8,222.7 1172.5,220.7 1174.1,218.8 1175.7,216.8 1177.4,214.9 1179.1,213.0 1180.8,211.2 1182.5,209.4 1184.3,207.7 1186.1,205.9 1187.9,204.3 1189.7,202.7 1191.6,201.1 1193.5,199.7 1195.5,198.3 1197.5,196.9 1199.6,195.6 1201.7,194.5 1203.9,193.3 1206.0,192.3 1208.3,191.3 1210.5,190.4 1212.8,189.6 1215.2,188.9 1217.5,188.2 1219.9,187.6 1222.3,187.1 1224.7,186.6 1227.1,186.3 1229.6,186.0 1232.0,185.8 1234.5,185.6 1236.9,185.6 1239.4,185.6 1241.9,185.7 1244.4,185.8 1246.8,186.1 1249.3,186.4 1251.7,186.8 1254.2,187.3 1256.6,187.8 1259.0,188.4 1261.4,189.1 1263.8,189.9 1266.1,190.8 1268.4,191.7 1270.7,192.7 1273.0,193.8 1275.2,195.0 1277.4,196.2 1279.6,197.4 1281.8,198.7 1284.0,200.0 1286.2,201.3 1288.3,202.7 1290.5,204.1 1292.6,205.5 1294.8,206.9 1296.9,208.3 1299.1,209.6 1301.2,211.0 1303.4,212.3 1305.5,213.6 1307.7,214.9 1309.9,216.1 1312.1,217.2 1314.4,218.3 1316.6,219.4 1318.9,220.3 1321.2,221.2 1323.5,222.0 1325.9,222.7 1328.3,223.4 1330.7,223.9 1333.1,224.3 1335.6,224.7 1338.1,225.0 1340.6,225.2 1343.1,225.3 1345.6,225.4 1348.1,225.4 1350.7,225.3 1353.2,225.2 1355.7,224.9 1358.3,224.7 1360.8,224.3 1363.3,224.0 1365.9,223.5 1368.4,223.0 1370.9,222.5 1373.4,221.9 1375.8,221.3 1378.3,220.6 1380.7,219.9 1383.1,219.1 1385.4,218.3 1387.8,217.5 1390.1,216.6 1392.4,215.8 1394.7,214.8 1397.0,213.9 1399.2,212.9 1401.5,211.9 1403.7,210.9 1405.9,209.9 1408.1,208.8 1410.3,207.7 1412.5,206.6 1414.7,205.5 1416.9,204.4 1419.0,203.2 1421.2,202.1 1423.4,200.9 1425.5,199.8 1427.7,198.6 1429.9,197.4 1432.1,196.2 1434.3,195.1 1436.4,193.9 1438.7,192.7 1440.9,191.5 1443.1,190.4 1445.3,189.2 1447.6,188.1 1449.8,186.9 1452.1,185.8 1454.4,184.7 1456.7,183.6 1459.0,182.6 1461.4,181.5 1463.7,180.5 1466.0,179.5 1468.4,178.6 1470.8,177.6 1473.1,176.8 1475.5,175.9 1477.9,175.1 1480.3,174.4 1482.7,173.7 1485.1,173.0 1487.5,172.4 1490.0,171.8 1492.4,171.3 1494.8,170.9 1497.3,170.5 1499.7,170.2 1502.2,169.9 1504.7,169.7 1507.1,169.6 1509.6,169.5 1512.1,169.4 1514.5,169.4 1517.0,169.4 1519.5,169.4 1522.0,169.5 1524.5,169.6 1527.0,169.7 1529.5,169.9 1532.0,170.1 1534.5,170.2 1537.0,170.4 1539.5,170.6 1542.0,170.8 1544.5,171.0 1547.0,171.2 1549.5,171.4 1552.0,171.6 1554.5,171.8 1557.0,172.0 1559.5,172.2 1562.0,172.4 1564.5,172.6 1567.0,172.8 1569.5,173.0 1572.0,173.1 1574.5,173.3 1577.0,173.5 1579.5,173.6 1582.0,173.7 1584.5,173.9 1587.0,174.0 1589.5,174.1 1592.0,174.1 1594.5,174.2 1597.0,174.3 1599.5,174.3 1602.0,174.3 1604.5,174.3 1607.0,174.3 1609.5,174.3 1612.0,174.2 1614.5,174.1 1616.9,174.0 1619.4,173.9 1621.9,173.8 1624.4,173.6 1626.8,173.4 1629.3,173.2 1631.8,172.9 1634.2,172.6 1636.7,172.3 1639.2,172.0 1641.6,171.6 1644.1,171.2 1646.5,170.8 1648.9,170.4 1651.4,169.9 1653.8,169.3 1656.3,168.8 1658.7,168.2 1661.1,167.6 1663.5,167.0 1666.0,166.4 1668.4,165.7 1670.8,165.0 1673.2,164.4 1675.6,163.7 1678.0,162.9 1680.5,162.2 1682.9,161.5 1685.3,160.7 1687.7,160.0 1690.1,159.2 1692.5,158.5 1694.9,157.7 1697.3,157.0 1699.7,156.2 1702.2,155.5 1704.6,154.7 1707.0,154.0 1709.4,153.2 1711.8,152.5 1714.2,151.8 1716.6,151.1 1719.1,150.5 1721.5,149.8 1723.9,149.2 1726.3,148.5 1728.8,147.9 1731.2,147.4 1733.6,146.8 1736.1,146.3 1738.5,145.8 1741.0,145.3 1743.4,144.9 1745.9,144.5 1748.3,144.1 1750.8,143.7 1753.3,143.4 1755.7,143.1 1758.2,142.8 1760.7,142.6 1763.1,142.3 1765.6,142.1 1768.1,142.0 1770.6,141.8 1773.1,141.7 1775.5,141.6 1778.0,141.6 1780.5,141.6 1783.0,141.6 1785.5,141.6 1788.0,141.6 1790.5,141.7 1793.0,141.8 1795.5,141.9 1798.0,142.1 1800.5,142.3 1803.0,142.5 1805.5,142.7 1808.0,143.0 1810.5,143.3 1813.0,143.6 1815.5,143.9 1818.0,144.3"/>
<path stroke="#8a007c" d="M263.9,187.2 266.6,185.8 269.2,184.8 271.8,184.2 274.2,184.0 276.5,184.1 278.7,184.5 280.8,185.2 282.8,186.2 284.7,187.4 286.6,188.9 288.3,190.5 290.0,192.4 291.5,194.4 293.0,196.5 294.4,198.8 295.7,201.1 296.9,203.5 298.0,206.0 299.0,208.4 300.0,210.9 300.9,213.3 301.8,215.7 302.7,218.0 303.7,220.3 304.9,222.4 306.1,224.3 307.6,226.1 309.3,227.7 311.3,229.1 313.6,230.2 315.9,230.9 318.2,231.0 320.3,230.4 321.9,228.9 323.3,226.8 324.5,224.2 325.6,221.4 326.8,218.6 328.3,216.1 330.1,214.2 332.2,213.0 334.3,212.5 336.3,212.7 337.9,213.5 339.1,214.9 340.1,216.8 340.8,218.9 341.4,221.4 341.9,223.9 342.4,226.5 342.8,229.0 343.3,231.6 343.7,234.1 344.1,236.7 344.5,239.2 344.9,241.7 345.3,244.3 345.6,246.8 346.0,249.3 346.3,251.9 346.6,254.4 346.9,256.9 347.2,259.4 347.5,261.9 347.8,264.4 348.0,266.9 348.3,269.4 348.6,271.9 348.8,274.4 349.0,276.9 349.3,279.4 349.5,281.9 349.7,284.4 349.9,286.9 350.1,289.4 350.3,291.9 350.5,294.4 350.6,296.8 350.8,299.3 351.0,301.8 351.2,304.3 351.3,306.8 351.5,309.2 351.6,311.7 351.8,314.2 352.0,316.7 352.1,319.2 352.3,321.6 352.4,324.1 352.6,326.6 352.7,329.1 352.9,331.6 353.0,334.1 353.2,336.5 353.3,339.0 353.5,341.5 353.7,344.0 353.8,346.5 354.0,349.0 354.1,351.5 354.3,353.9 354.4,356.4 354.6,358.9 354.7,361.4 354.9,363.9 355.1,366.4 355.2,368.9 355.4,371.4 355.5,373.9 355.7,376.3 355.8,378.8 356.0,381.3 356.1,383.8 356.3,386.3 356.5,388.8 356.6,391.3 356.8,393.8 356.9,396.3 357.1,398.8 357.2,401.3 357.4,403.8 357.5,406.3 357.7,408.8 357.9,411.3 358.0,413.8 358.2,416.3 358.3,418.8 358.5,421.3 358.6,423.8 358.8,426.3 358.9,428.8 359.1,431.3 359.3,433.8 359.4,436.3 359.6,438.8 359.7,441.3 359.9,443.8 360.0,446.3 360.2,448.8 360.3,451.3 360.5,453.8 360.7,456.3 360.8,458.8 361.0,461.3 361.1,463.8 361.3,466.3 361.4,468.8 361.6,471.3 361.7,473.8 361.9,476.3 362.1,478.8 362.2,481.3 362.4,483.8 362.5,486.3 362.7,488.8 362.8,491.3 363.0,493.8 363.1,496.3 363.3,498.8 363.5,501.3 363.6,503.8 363.8,506.3 363.9,508.8 364.1,511.3 364.2,513.8 364.4,516.3 364.5,518.8 364.7,521.3 364.8,523.8 365.0,526.3 365.1,528.8 365.3,531.3 365.5,533.8 365.6,536.4 365.8,538.9 365.9,541.4 366.1,543.9 366.2,546.4 366.4,548.9 366.5,551.4 366.7,553.9 366.8,556.4 367.0,558.9 367.1,561.4 367.3,563.9 367.4,566.4 367.6,568.9 367.7,571.4 367.9,573.9 368.0,576.4 368.2,578.9 368.3,581.4 368.5,583.9 368.6,586.4 368.8,588.9 368.9,591.4 369.1,593.9 369.2,596.4 369.4,598.9 369.5,601.4 369.7,603.9 369.8,606.4 370.0,608.9 370.1,611.4 370.3,613.9 370.4,616.4 370.6,618.9 370.7,621.4 370.9,623.9 371.0,626.3 371.2,628.8 371.3,631.3 371.5,633.8 371.6,636.3 371.8,638.8 371.9,641.3 372.1,643.8 372.2,646.3 372.4,648.8 372.5,651.3 372.7,653.8 372.8,656.3 373.0,658.8 373.1,661.3 373.3,663.8 373.4,666.2 373.6,668.7 373.8,671.2 373.9,673.7 374.1,676.2 374.2,678.7 374.4,681.2 374.6,683.7 374.7,686.2 374.9,688.7 375.1,691.2 375.2,693.6 375.4,696.1 375.6,698.6 375.7,701.1 375.9,703.6 376.1,706.1 376.2,708.6 376.4,711.1 376.6,713.6 376.8,716.1 376.9,718.5 377.1,721.0 377.3,723.5 377.5,726.0 377.7,728.5 377.9,731.0 378.1,733.5 378.2,736.0 378.4,738.4 378.6,740.9 378.8,743.4 379.0,745.9 379.2,748.4 379.4,750.9 379.6,753.4 379.8,755.9 380.0,758.3 380.2,760.8 380.5,763.3 380.7,765.8 380.9,768.3 381.1,770.8 381.3,773.3 381.5,775.8 381.8,778.2 382.0,780.7 382.2,783.2 382.5,785.7 382.7,788.2 382.9,790.7 383.2,793.2 383.4,795.6 383.6,798.1 383.9,800.6 384.1,803.1 384.4,805.6 384.6,808.1 384.9,810.6 385.2,813.0 385.4,815.5 385.7,818.0 386.0,820.5 386.2,823.0 386.5,825.5 386.8,828.0 387.1,830.4 387.4,832.9 387.6,835.4 387.9,837.9 388.2,840.4 388.5,842.9 388.8,845.4 389.1,847.8 389.4,850.3 389.7,852.8 390.1,855.3 390.4,857.8 390.7,860.3 391.0,862.8 391.3,865.2 391.7,867.7 392.0,870.2 392.3,872.7 392.7,875.2 393.0,877.7 393.4,880.2 393.7,882.7 394.1,885.1 394.5,887.6 394.8,890.1 395.2,892.6 395.6,895.1 395.9,897.6 396.3,900.1 396.7,902.5 397.1,905.0 397.5,907.5 397.9,910.0 398.3,912.5 398.7,915.0 399.1,917.5 399.5,920.0 399.9,922.5 400.4,924.9 400.8,927.4 401.2,929.9 401.6,932.4 402.1,934.9 402.5,937.4 403.0,939.9 403.4,942.4 403.9,944.9 404.4,947.3 404.8,949.8 405.3,952.3 405.8,954.8 406.3,957.3 406.8,959.8 407.3,962.2 407.9,964.7 408.5,967.1 409.1,969.6 409.8,972.0 410.5,974.3 411.3,976.7 412.2,979.0 413.1,981.3 414.0,983.6 415.1,985.8 416.2,988.0 417.4,990.1 418.7,992.2 420.1,994.2 421.6,996.2 423.2,998.2 424.9,1000.1 426.7,1001.9 428.6,1003.6 430.6,1005.0 432.6,1006.3 434.7,1007.3 436.8,1007.9 439.0,1008.1 441.1,1007.9 443.3,1007.3 445.4,1006.4 447.5,1005.2 449.6,1003.7 451.6,1002.1 453.5,1000.2 455.4,998.2 457.1,996.1 458.8,994.0 460.3,991.8 461.8,989.6 463.1,987.4 464.3,985.1 465.5,982.8 466.6,980.5 467.5,978.2 468.5,975.9 469.3,973.5 470.1,971.1 470.8,968.8 471.5,966.4 472.1,963.9 472.7,961.5 473.3,959.1 473.8,956.7 474.4,954.2 474.9,951.8 475.4,949.3 475.8,946.9 476.3,944.4 476.8,942.0 477.3,939.6 477.8,937.1 478.2,934.7 478.7,932.2 479.2,929.8 479.6,927.3 480.1,924.9 480.5,922.4 481.0,919.9 481.4,917.5 481.8,915.0 482.3,912.6 482.7,910.1 483.1,907.7 483.6,905.2 484.0,902.8 484.4,900.3 484.8,897.8 485.2,895.4 485.6,892.9 486.0,890.5 486.4,888.0 486.8,885.5 487.2,883.1 487.6,880.6 488.0,878.1 488.3,875.7 488.7,873.2 489.1,870.7 489.4,868.3 489.8,865.8 490.2,863.3 490.5,860.9 490.9,858.4 491.2,855.9 491.6,853.5 491.9,851.0 492.3,848.5 492.6,846.0 492.9,843.6 493.3,841.1 493.6,838.6 493.9,836.2 494.3,833.7 494.6,831.2 494.9,828.7 495.2,826.3 495.5,823.8 495.8,821.3 496.1,818.8 496.4,816.3 496.7,813.9 497.0,811.4 497.3,808.9 497.6,806.4 497.9,803.9 498.2,801.5 498.5,799.0 498.8,796.5 499.0,794.0 499.3,791.5 499.6,789.0 499.9,786.6 500.1,784.1 500.4,781.6 500.7,779.1 500.9,776.6 501.2,774.1 501.4,771.7 501.7,769.2 501.9,766.7 502.2,764.2 502.4,761.7 502.7,759.2 502.9,756.7 503.2,754.2 503.4,751.8 503.6,749.3 503.9,746.8 504.1,744.3 504.3,741.8 504.6,739.3 504.8,736.8 505.0,734.3 505.2,731.8 505.4,729.3 505.7,726.8 505.9,724.3 506.1,721.9 506.3,719.4 506.5,716.9 506.7,714.4 506.9,711.9 507.1,709.4 507.3,706.9 507.5,704.4 507.7,701.9 507.9,699.4 508.1,696.9 508.3,694.4 508.5,691.9 508.7,689.4 508.9,686.9 509.1,684.4 509.3,681.9 509.5,679.4 509.7,676.9 509.8,674.4 510.0,671.9 510.2,669.4 510.4,666.9 510.6,664.4 510.7,661.9 510.9,659.4 511.1,656.9 511.3,654.5 511.4,652.0 511.6,649.5 511.8,647.0 512.0,644.5 512.1,642.0 512.3,639.5 512.5,637.0 512.6,634.5 512.8,632.0 513.0,629.5 513.1,626.9 513.3,624.4 513.4,621.9 513.6,619.4 513.8,616.9 513.9,614.4 514.1,611.9 514.2,609.4 514.4,606.9 514.6,604.4 514.7,601.9 514.9,599.4 515.0,596.9 515.2,594.4 515.3,591.9 515.5,589.4 515.7,586.9 515.8,584.4 516.0,581.9 516.1,579.4 516.3,576.9 516.4,574.4 516.6,571.9 516.7,569.4 516.9,566.9 517.0,564.4 517.2,561.9 517.3,559.4 517.5,556.9 517.6,554.4 517.8,551.9 517.9,549.4 518.1,546.9 518.2,544.4 518.4,541.9 518.5,539.4 518.7,536.9 518.8,534.4 519.0,531.9 519.1,529.4 519.3,526.9 519.5,524.4 519.6,521.9 519.8,519.4 519.9,516.9 520.1,514.4 520.2,511.9 520.4,509.4 520.5,506.9 520.7,504.4 520.8,501.9 521.0,499.4 521.2,496.9 521.3,494.4 521.5,491.9 521.6,489.4 521.8,486.9 522.0,484.4 522.1,481.9 522.3,479.4 522.4,476.9 522.6,474.4 522.8,471.9 522.9,469.4 523.1,466.9 523.3,464.4 523.4,461.9 523.6,459.4 523.8,456.9 524.0,454.4 524.1,451.9 524.3,449.4 524.5,446.9 524.6,444.4 524.8,441.9 525.0,439.4 525.2,437.0 525.4,434.5 525.5,432.0 525.7,429.5 525.9,427.0 526.1,424.5 526.3,422.0 526.5,419.5 526.7,417.0 526.8,414.5 527.0,412.0 527.2,409.5 527.4,407.0 527.6,404.5 527.8,402.1 528.0,399.6 528.2,397.1 528.4,394.6 528.6,392.1 528.8,389.6 529.0,387.1 529.2,384.6 529.4,382.1 529.7,379.7 529.9,377.2 530.1,374.7 530.3,372.2 530.5,369.7 530.7,367.2 530.9,364.7 531.1,362.2 531.4,359.7 531.6,357.3 531.8,354.8 532.0,352.3 532.2,349.8 532.4,347.3 532.7,344.8 532.9,342.3 533.1,339.8 533.3,337.4 533.5,334.9 533.8,332.4 534.0,329.9 534.2,327.4 534.4,324.9 534.6,322.4 534.9,319.9 535.1,317.4 535.3,315.0 535.5,312.5 535.7,310.0 536.0,307.5 536.2,305.0 536.4,302.5 536.6,300.0 536.9,297.5 537.1,295.0 537.3,292.5 537.5,290.0 537.7,287.6 538.0,285.1 538.2,282.6 538.4,280.1 538.6,277.6 538.8,275.1 539.1,272.6 539.3,270.1 539.5,267.6 539.7,265.1 539.9,262.6 540.1,260.1 540.4,257.6 540.6,255.1 540.8,252.6 541.0,250.1 541.2,247.6 541.4,245.1 541.6,242.6 541.9,240.1 542.1,237.6 542.3,235.1 542.6,232.6 542.8,230.1 543.1,227.6 543.4,225.2 543.6,222.7 543.9,220.2 544.3,217.7 544.6,215.2 544.9,212.7 545.3,210.3 545.7,207.8 546.1,205.3 546.6,202.9 547.0,200.4 547.5,198.0 548.0,195.5 548.5,193.1 549.1,190.6 549.7,188.2 550.3,185.8 551.0,183.4 551.7,180.9 552.4,178.5 553.2,176.1 554.0,173.7 554.9,171.4 555.7,169.0 556.7,166.6 557.6,164.3 558.7,162.1 560.0,160.5 561.8,159.9 564.0,160.6 566.5,162.2 568.8,164.2 570.7,166.2 572.3,168.2 573.6,170.2 574.9,172.2 576.2,174.4 577.4,176.6 578.7,178.8 580.1,181.0 581.6,183.1 583.2,185.1 585.0,186.9 586.9,188.5 589.0,189.9 591.2,191.0 593.5,191.8 595.9,192.4 598.3,192.7 600.6,192.6 603.0,192.3 605.3,191.6 607.5,190.6 609.7,189.3 611.8,187.9 613.9,186.5 616.1,185.1 618.3,183.8 620.6,182.7 623.0,182.0 625.5,181.5 628.0,181.2 630.6,181.2 633.1,181.5 635.6,182.0 638.0,182.8 640.4,183.7 642.6,184.9 644.8,186.2 646.8,187.8 648.7,189.4 650.6,191.1 652.4,192.9 654.3,194.6 656.2,196.3 658.2,197.9 660.3,199.4 662.5,200.7 664.7,202.0 667.0,203.1 669.3,204.0 671.7,204.8 674.1,205.5 676.5,206.0 678.9,206.4 681.3,206.6 683.7,206.7 686.0,206.6 688.3,206.3 690.6,205.8 692.8,205.2 694.9,204.4 697.0,203.4 699.0,202.3 700.9,201.0 702.8,199.5 704.6,198.0 706.4,196.3 708.2,194.5 709.9,192.6 711.6,190.6 713.3,188.6 715.0,186.5 716.7,184.4 718.4,182.2 720.1,180.1 721.8,177.9 723.5,175.7 725.3,173.5 727.1,171.4 728.9,169.3 730.8,167.3 732.7,165.4 734.7,163.6 736.6,162.0 738.7,160.5 740.7,159.3 742.8,158.3 744.9,157.6 747.0,157.1 749.2,157.0 751.3,157.2 753.5,157.6 755.7,158.3 757.8,159.3 759.9,160.4 762.0,161.7 764.0,163.1 765.9,164.7 767.8,166.4 769.6,168.2 771.2,170.1 772.8,172.0 774.3,174.0 775.7,176.0 777.0,178.1 778.3,180.3 779.4,182.5 780.6,184.7 781.7,186.9 782.7,189.2 783.7,191.5 784.7,193.9 785.6,196.2 786.6,198.6 787.5,201.0 788.4,203.4 789.3,205.7 790.3,208.1 791.2,210.5 792.2,212.8 793.2,215.2 794.3,217.5 795.3,219.8 796.5,222.1 797.6,224.3 798.8,226.6 800.1,228.7 801.4,230.9 802.7,233.0 804.1,235.0 805.6,237.0 807.1,239.0 808.7,240.9 810.4,242.7 812.1,244.5 814.0,246.3 815.9,247.9 817.8,249.5 819.9,251.0 822.0,252.4 824.2,253.8 826.5,254.9 828.7,256.0 831.0,256.8 833.3,257.5 835.6,257.9 837.9,258.0 840.1,257.9 842.3,257.6 844.4,256.9 846.5,256.1 848.5,255.0 850.5,253.7 852.5,252.2 854.4,250.5 856.2,248.7 858.0,246.8 859.8,244.8 861.5,242.6 863.2,240.4 864.8,238.1 866.4,235.8 868.0,233.4 869.5,231.1 871.0,228.7 872.4,226.4 873.8,224.1 875.1,221.9 876.4,219.7 877.7,217.6 878.9,215.6 880.2,213.7 881.4,211.7 882.5,209.8 883.7,208.0 884.9,206.1 886.1,204.2 887.2,202.4 888.4,200.5 889.7,198.6 890.9,196.6 892.2,194.7 893.5,192.6 894.8,190.5 896.2,188.3 897.6,186.1 899.1,183.8 900.7,181.4 902.2,179.0 903.9,176.6 905.5,174.2 907.2,171.9 909.0,169.5 910.7,167.3 912.5,165.2 914.4,163.1 916.2,161.2 918.1,159.4 920.0,157.8 922.0,156.4 923.9,155.1 925.9,154.1 927.9,153.4 929.9,152.9 931.9,152.6 933.9,152.7 935.9,153.0 937.9,153.7 939.9,154.5 942.0,155.6 944.0,156.9 945.9,158.4 947.9,160.0 949.8,161.8 951.7,163.6 953.5,165.6 955.3,167.5 957.1,169.5 958.8,171.6 960.4,173.6 962.0,175.6 963.6,177.7 965.1,179.7 966.6,181.8 968.0,183.9 969.4,185.9 970.7,188.0 972.1,190.1 973.4,192.2 974.6,194.3 975.9,196.4 977.1,198.5 978.3,200.7 979.5,202.8 980.6,204.9 981.8,207.1 982.9,209.2 984.0,211.4 985.1,213.5 986.3,215.7 987.4,217.9 988.5,220.0 989.6,222.2 990.7,224.4 991.8,226.6 992.9,228.8 994.1,231.0 995.2,233.2 996.4,235.4 997.6,237.6 998.8,239.8 1000.0,242.0 1001.3,244.2 1002.6,246.4 1003.9,248.6 1005.2,250.8 1006.6,253.0 1008.0,255.3 1009.4,257.5 1010.9,259.7 1012.5,261.9 1014.0,264.1 1015.6,266.2 1017.3,268.4 1019.0,270.5 1020.7,272.5 1022.4,274.5 1024.2,276.4 1026.1,278.2 1027.9,279.9 1029.8,281.5 1031.8,283.1 1033.7,284.5 1035.7,285.8 1037.8,287.0 1039.8,288.0 1041.9,288.9 1044.1,289.6 1046.2,290.2 1048.4,290.6 1050.7,290.8 1052.9,290.8 1055.2,290.6 1057.5,290.3 1059.8,289.8 1062.2,289.2 1064.5,288.4 1066.8,287.5 1069.1,286.4 1071.4,285.3 1073.7,284.0 1075.9,282.7 1078.1,281.3 1080.2,279.8 1082.3,278.2 1084.4,276.6 1086.4,275.0 1088.3,273.3 1090.2,271.5 1092.0,269.8 1093.8,268.0 1095.5,266.1 1097.2,264.2 1098.9,262.3 1100.5,260.4 1102.1,258.5 1103.6,256.5 1105.1,254.5 1106.6,252.5 1108.1,250.5 1109.5,248.4 1110.9,246.4 1112.3,244.3 1113.7,242.2 1115.1,240.1 1116.4,238.1 1117.8,236.0 1119.1,233.9 1120.4,231.8 1121.8,229.7 1123.1,227.7 1124.5,225.6 1125.8,223.6 1127.2,221.5 1128.6,219.5 1130.0,217.5 1131.4,215.5 1132.9,213.5 1134.3,211.5 1135.8,209.5 1137.4,207.6 1139.0,205.6 1140.6,203.7 1142.2,201.8 1143.9,200.0 1145.7,198.1 1147.5,196.3 1149.4,194.5 1151.3,192.7 1153.2,191.0 1155.2,189.3 1157.2,187.7 1159.3,186.1 1161.4,184.6 1163.6,183.2 1165.7,181.8 1167.9,180.5 1170.2,179.3 1172.4,178.2 1174.7,177.2 1177.0,176.3 1179.3,175.5 1181.6,174.8 1184.0,174.3 1186.3,173.8 1188.7,173.5 1191.1,173.3 1193.5,173.3 1195.8,173.4 1198.2,173.6 1200.6,174.0 1203.0,174.4 1205.4,175.0 1207.7,175.6 1210.1,176.3 1212.5,177.1 1214.8,178.0 1217.2,178.9 1219.5,179.9 1221.9,180.9 1224.2,181.9 1226.5,183.0 1228.8,184.1 1231.1,185.3 1233.4,186.5 1235.7,187.6 1238.0,188.8 1240.2,190.0 1242.5,191.2 1244.8,192.4 1247.0,193.6 1249.3,194.8 1251.6,196.0 1253.8,197.2 1256.1,198.3 1258.4,199.4 1260.6,200.5 1262.9,201.5 1265.2,202.6 1267.5,203.5 1269.8,204.4 1272.1,205.3 1274.4,206.1 1276.7,206.9 1279.0,207.6 1281.4,208.2 1283.7,208.7 1286.1,209.2 1288.4,209.6 1290.8,209.9 1293.2,210.1 1295.7,210.3 1298.1,210.3 1300.5,210.3 1303.0,210.2 1305.4,210.0 1307.9,209.8 1310.4,209.5 1312.8,209.1 1315.3,208.7 1317.8,208.2 1320.2,207.6 1322.7,207.0 1325.2,206.4 1327.6,205.7 1330.1,204.9 1332.5,204.2 1334.9,203.3 1337.4,202.5 1339.8,201.6 1342.2,200.6 1344.6,199.7 1346.9,198.7 1349.3,197.7 1351.6,196.7 1353.9,195.6 1356.2,194.6 1358.5,193.5 1360.8,192.4 1363.1,191.3 1365.3,190.2 1367.6,189.1 1369.8,188.0 1372.1,186.9 1374.3,185.8 1376.6,184.7 1378.8,183.6 1381.0,182.5 1383.3,181.5 1385.5,180.4 1387.7,179.4 1390.0,178.3 1392.3,177.3 1394.5,176.4 1396.8,175.4 1399.1,174.5 1401.4,173.6 1403.7,172.7 1406.0,171.9 1408.3,171.1 1410.7,170.3 1413.0,169.6 1415.4,168.9 1417.8,168.2 1420.2,167.6 1422.6,167.0 1425.0,166.4 1427.4,165.9 1429.8,165.4 1432.3,164.9 1434.7,164.4 1437.2,164.0 1439.6,163.6 1442.1,163.2 1444.6,162.9 1447.0,162.6 1449.5,162.3 1452.0,162.0 1454.5,161.7 1457.0,161.5 1459.5,161.3 1462.0,161.1 1464.6,160.9 1467.1,160.8 1469.6,160.7 1472.1,160.6 1474.6,160.5 1477.1,160.4 1479.7,160.4 1482.2,160.3 1484.7,160.3 1487.2,160.3 1489.8,160.3 1492.3,160.4 1494.8,160.4 1497.3,160.5 1499.8,160.5 1502.4,160.6 1504.9,160.6 1507.4,160.7 1509.9,160.8 1512.4,160.9 1515.0,161.0 1517.5,161.0 1520.0,161.1 1522.5,161.2 1525.0,161.3 1527.5,161.3 1530.0,161.4 1532.5,161.4 1535.0,161.5 1537.5,161.5 1540.0,161.5 1542.5,161.5 1545.0,161.5 1547.5,161.5 1550.0,161.5 1552.5,161.4 1554.9,161.3 1557.4,161.2 1559.9,161.1 1562.4,161.0 1564.8,160.8 1567.3,160.6 1569.8,160.4 1572.2,160.2 1574.7,159.9 1577.1,159.6 1579.6,159.3 1582.0,158.9 1584.4,158.5 1586.9,158.1 1589.3,157.6 1591.7,157.1 1594.2,156.5 1596.6,156.0 1599.0,155.4 1601.4,154.7 1603.8,154.1 1606.2,153.4 1608.6,152.7 1611.0,152.0 1613.4,151.3 1615.8,150.5 1618.2,149.7 1620.6,149.0 1623.0,148.2 1625.4,147.4 1627.8,146.6 1630.2,145.8 1632.6,144.9 1635.0,144.1 1637.4,143.3 1639.8,142.5 1642.2,141.7 1644.6,140.9 1647.0,140.0 1649.4,139.3 1651.8,138.5 1654.2,137.7 1656.6,136.9 1659.0,136.2 1661.4,135.5 1663.8,134.8 1666.3,134.1 1668.7,133.4 1671.1,132.8 1673.5,132.1 1676.0,131.5 1678.4,131.0 1680.9,130.4 1683.3,129.9 1685.8,129.4 1688.2,128.9 1690.7,128.5 1693.1,128.1 1695.6,127.7 1698.0,127.4 1700.5,127.1 1702.9,126.8 1705.4,126.5 1707.9,126.3 1710.3,126.1 1712.8,126.0 1715.3,125.9 1717.7,125.8 1720.2,125.8 1722.6,125.8 1725.1,125.8 1727.6,125.9 1730.0,126.0 1732.5,126.2 1735.0,126.4 1737.4,126.7 1739.9,127.0 1742.4,127.3 1744.8,127.7 1747.3,128.1 1749.7,128.6 1752.2,129.1 1754.7,129.6 1757.1,130.2 1759.6,130.7 1762.0,131.3 1764.5,132.0 1766.9,132.6 1769.4,133.3 1771.8,133.9 1774.3,134.6 1776.7,135.3 1779.1,136.0 1781.6,136.7 1784.0,137.4 1786.4,138.1 1788.9,138.7 1791.3,139.4 1793.7,140.1 1796.2,140.7 1798.6,141.3 1801.0,141.9 1803.4,142.5 1805.8,143.0 1808.3,143.5 1810.7,144.0 1813.1,144.4 1815.5,144.8 1817.9,145.1"/>
</g>
<line x1="263.7" y1="41.2" x2="1820.3" y2="41.2" stroke="#000" stroke-width="3.4"/>
<line x1="263.7" y1="1196.8" x2="1820.3" y2="1196.8" stroke="#000" stroke-width="3.2"/>
<line x1="264.5" y1="39.5" x2="264.5" y2="1198.4" stroke="#000" stroke-width="4.8"/>
<line x1="1818.7" y1="39.5" x2="1818.7" y2="1198.4" stroke="#000" stroke-width="3.4"/>
<text transform="translate(263.8,1281) scale(1,1.035)" font-size="74" text-anchor="middle">400</text>
<text transform="translate(429.2,1281) scale(1,1.035)" font-size="74" text-anchor="middle">450</text>
<text transform="translate(594.6,1281) scale(1,1.035)" font-size="74" text-anchor="middle">500</text>
<text transform="translate(760.0,1281) scale(1,1.035)" font-size="74" text-anchor="middle">550</text>
<text transform="translate(925.5,1281) scale(1,1.035)" font-size="74" text-anchor="middle">600</text>
<text transform="translate(1090.9,1281) scale(1,1.035)" font-size="74" text-anchor="middle">650</text>
<text transform="translate(1256.3,1281) scale(1,1.035)" font-size="74" text-anchor="middle">700</text>
<text transform="translate(1421.7,1281) scale(1,1.035)" font-size="74" text-anchor="middle">750</text>
<text transform="translate(1587.1,1281) scale(1,1.035)" font-size="74" text-anchor="middle">800</text>
<text transform="translate(1752.5,1281) scale(1,1.035)" font-size="74" text-anchor="middle">850</text>
<text transform="translate(238,1218.3) scale(1,1.035)" font-size="74" text-anchor="end">0</text>
<text transform="translate(238,1102.7) scale(1,1.035)" font-size="74" text-anchor="end">10</text>
<text transform="translate(238,987.2) scale(1,1.035)" font-size="74" text-anchor="end">20</text>
<text transform="translate(238,871.6) scale(1,1.035)" font-size="74" text-anchor="end">30</text>
<text transform="translate(238,756.1) scale(1,1.035)" font-size="74" text-anchor="end">40</text>
<text transform="translate(238,640.5) scale(1,1.035)" font-size="74" text-anchor="end">50</text>
<text transform="translate(238,524.9) scale(1,1.035)" font-size="74" text-anchor="end">60</text>
<text transform="translate(238,409.4) scale(1,1.035)" font-size="74" text-anchor="end">70</text>
<text transform="translate(238,293.8) scale(1,1.035)" font-size="74" text-anchor="end">80</text>
<text transform="translate(238,178.3) scale(1,1.035)" font-size="74" text-anchor="end">90</text>
<text transform="translate(238,62.7) scale(1,1.035)" font-size="74" text-anchor="end">100</text>
<text x="677" y="1391" font-size="99.6" font-weight="bold">Wavelength (nm)</text>
<text transform="translate(93,1040) rotate(-90)" font-size="99.6" font-weight="bold">Transmittance (%)</text>
<line x1="1023.5" y1="563.7" x2="1148.5" y2="563.7" stroke="#000" stroke-width="3.6"/>
<text x="1186.9" y="581.5" font-size="54">0 degree</text>
<text x="1389.6" y="581.5" font-size="54">(</text>
<text x="1411.5" y="581.5" font-size="54" font-style="italic">λ</text>
<text x="1436.9" y="602.5" font-size="29">c</text>
<text x="1447.9" y="581.5" font-size="54" textLength="106" lengthAdjust="spacingAndGlyphs">=483</text>
<text x="1566.6" y="581.5" font-size="54">nm)</text>
<line x1="1023.5" y1="650.7" x2="1148.5" y2="650.7" stroke="#ff0000" stroke-width="3.0"/>
<text x="1162.0" y="668.5" font-size="54">10-degree</text>
<text x="1394.1" y="668.5" font-size="54">(</text>
<text x="1416.0" y="668.5" font-size="54" font-style="italic">λ</text>
<text x="1441.4" y="689.5" font-size="29">c</text>
<text x="1452.4" y="668.5" font-size="54" textLength="106" lengthAdjust="spacingAndGlyphs">=479</text>
<text x="1571.1" y="668.5" font-size="54">nm)</text>
<line x1="1023.5" y1="737.7" x2="1148.5" y2="737.7" stroke="#0000ff" stroke-width="3.0"/>
<text x="1162.0" y="755.5" font-size="54">20-degree</text>
<text x="1394.1" y="755.5" font-size="54">(</text>
<text x="1416.0" y="755.5" font-size="54" font-style="italic">λ</text>
<text x="1441.4" y="776.5" font-size="29">c</text>
<text x="1452.4" y="755.5" font-size="54" textLength="106" lengthAdjust="spacingAndGlyphs">=471</text>
<text x="1571.1" y="755.5" font-size="54">nm)</text>
<line x1="1023.5" y1="824.7" x2="1148.5" y2="824.7" stroke="#008080" stroke-width="3.0"/>
<text x="1162.0" y="842.5" font-size="54">30-degree</text>
<text x="1394.1" y="842.5" font-size="54">(</text>
<text x="1416.0" y="842.5" font-size="54" font-style="italic">λ</text>
<text x="1441.4" y="863.5" font-size="29">c</text>
<text x="1452.4" y="842.5" font-size="54" textLength="106" lengthAdjust="spacingAndGlyphs">=463</text>
<text x="1571.1" y="842.5" font-size="54">nm)</text>
<line x1="1023.5" y1="911.7" x2="1148.5" y2="911.7" stroke="#8a007c" stroke-width="3.0"/>
<text x="1162.0" y="929.5" font-size="54">40-degree</text>
<text x="1394.1" y="929.5" font-size="54">(</text>
<text x="1416.0" y="929.5" font-size="54" font-style="italic">λ</text>
<text x="1441.4" y="950.5" font-size="29">c</text>
<text x="1452.4" y="929.5" font-size="54" textLength="106" lengthAdjust="spacingAndGlyphs">=452</text>
<text x="1571.1" y="929.5" font-size="54">nm)</text>
</svg>
</body></html>
